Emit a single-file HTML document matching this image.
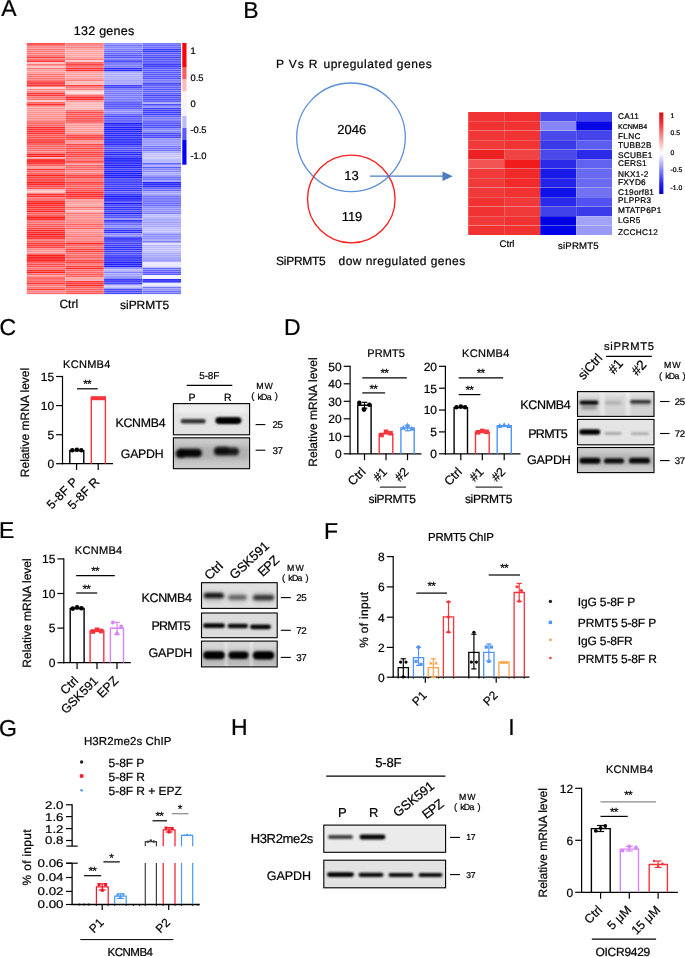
<!DOCTYPE html>
<html><head><meta charset="utf-8"><title>Figure</title>
<style>
html,body{margin:0;padding:0;background:#fff;}
body{width:685px;height:957px;overflow:hidden;font-family:"Liberation Sans",sans-serif;}
svg{display:block;font-family:"Liberation Sans",sans-serif;will-change:transform;text-rendering:geometricPrecision;}
text{stroke:#000;stroke-width:0.22px;paint-order:stroke;}
</style></head><body>
<svg width="685" height="957" viewBox="0 0 685 957">
<rect width="685" height="957" fill="#ffffff"/>
<defs>
<filter id="bl1" x="-30%" y="-200%" width="160%" height="500%"><feGaussianBlur stdDeviation="0.7"/></filter>
<filter id="bl2" x="-30%" y="-200%" width="160%" height="500%"><feGaussianBlur stdDeviation="1.1"/></filter>
<filter id="bl3" x="-30%" y="-200%" width="160%" height="500%"><feGaussianBlur stdDeviation="1.6"/></filter>
<filter id="bl4" x="-30%" y="-200%" width="160%" height="500%"><feGaussianBlur stdDeviation="2.4"/></filter>
<filter id="bl5" x="-30%" y="-200%" width="160%" height="500%"><feGaussianBlur stdDeviation="4.0"/></filter>
</defs>
<text x="1.2" y="16.4" font-size="23" fill="#000">A</text>
<text x="104" y="35.3" font-size="12.5" text-anchor="middle" fill="#000" textLength="60.5" lengthAdjust="spacing">132 genes</text>
<rect x="26.80" y="43.09" width="38.60" height="1.74" fill="#fb3e3e" stroke="none" stroke-width="1.0"/>
<rect x="26.80" y="44.99" width="38.60" height="1.74" fill="#fc7272" stroke="none" stroke-width="1.0"/>
<rect x="26.80" y="46.90" width="38.60" height="1.74" fill="#fc8a8a" stroke="none" stroke-width="1.0"/>
<rect x="26.80" y="48.80" width="38.60" height="1.74" fill="#fc7777" stroke="none" stroke-width="1.0"/>
<rect x="26.80" y="50.70" width="38.60" height="1.74" fill="#fc7777" stroke="none" stroke-width="1.0"/>
<rect x="26.80" y="52.61" width="38.60" height="1.74" fill="#fc7777" stroke="none" stroke-width="1.0"/>
<rect x="26.80" y="54.51" width="38.60" height="1.74" fill="#fc7777" stroke="none" stroke-width="1.0"/>
<rect x="26.80" y="56.41" width="38.60" height="1.74" fill="#fb3e3e" stroke="none" stroke-width="1.0"/>
<rect x="26.80" y="58.31" width="38.60" height="1.74" fill="#fc7272" stroke="none" stroke-width="1.0"/>
<rect x="26.80" y="60.22" width="38.60" height="1.74" fill="#fb3737" stroke="none" stroke-width="1.0"/>
<rect x="26.80" y="62.12" width="38.60" height="1.74" fill="#feb8b8" stroke="none" stroke-width="1.0"/>
<rect x="26.80" y="64.02" width="38.60" height="1.74" fill="#fc7777" stroke="none" stroke-width="1.0"/>
<rect x="26.80" y="65.93" width="38.60" height="1.74" fill="#fec4c4" stroke="none" stroke-width="1.0"/>
<rect x="26.80" y="67.83" width="38.60" height="1.74" fill="#fc7777" stroke="none" stroke-width="1.0"/>
<rect x="26.80" y="69.73" width="38.60" height="1.74" fill="#fd9c9c" stroke="none" stroke-width="1.0"/>
<rect x="26.80" y="71.64" width="38.60" height="1.74" fill="#fd9c9c" stroke="none" stroke-width="1.0"/>
<rect x="26.80" y="73.54" width="38.60" height="1.74" fill="#fc7777" stroke="none" stroke-width="1.0"/>
<rect x="26.80" y="75.44" width="38.60" height="1.74" fill="#fc7777" stroke="none" stroke-width="1.0"/>
<rect x="26.80" y="77.34" width="38.60" height="1.74" fill="#fc7777" stroke="none" stroke-width="1.0"/>
<rect x="26.80" y="79.25" width="38.60" height="1.74" fill="#fc7777" stroke="none" stroke-width="1.0"/>
<rect x="26.80" y="81.15" width="38.60" height="1.74" fill="#fb3e3e" stroke="none" stroke-width="1.0"/>
<rect x="26.80" y="83.05" width="38.60" height="1.74" fill="#fb3e3e" stroke="none" stroke-width="1.0"/>
<rect x="26.80" y="84.96" width="38.60" height="1.74" fill="#fb3737" stroke="none" stroke-width="1.0"/>
<rect x="26.80" y="86.86" width="38.60" height="1.74" fill="#fed5d5" stroke="none" stroke-width="1.0"/>
<rect x="26.80" y="88.76" width="38.60" height="1.74" fill="#fd8e8e" stroke="none" stroke-width="1.0"/>
<rect x="26.80" y="90.67" width="38.60" height="1.74" fill="#fd8e8e" stroke="none" stroke-width="1.0"/>
<rect x="26.80" y="92.57" width="38.60" height="1.74" fill="#fb3737" stroke="none" stroke-width="1.0"/>
<rect x="26.80" y="94.47" width="38.60" height="1.74" fill="#fb3737" stroke="none" stroke-width="1.0"/>
<rect x="26.80" y="96.37" width="38.60" height="1.74" fill="#fc7272" stroke="none" stroke-width="1.0"/>
<rect x="26.80" y="98.28" width="38.60" height="1.74" fill="#fc7272" stroke="none" stroke-width="1.0"/>
<rect x="26.80" y="100.18" width="38.60" height="1.74" fill="#fec4c4" stroke="none" stroke-width="1.0"/>
<rect x="26.80" y="102.08" width="38.60" height="1.74" fill="#fc5b5b" stroke="none" stroke-width="1.0"/>
<rect x="26.80" y="103.99" width="38.60" height="1.74" fill="#fb3131" stroke="none" stroke-width="1.0"/>
<rect x="26.80" y="105.89" width="38.60" height="1.74" fill="#fd9b9b" stroke="none" stroke-width="1.0"/>
<rect x="26.80" y="107.79" width="38.60" height="1.74" fill="#fd9696" stroke="none" stroke-width="1.0"/>
<rect x="26.80" y="109.70" width="38.60" height="1.74" fill="#fd9696" stroke="none" stroke-width="1.0"/>
<rect x="26.80" y="111.60" width="38.60" height="1.74" fill="#fd9090" stroke="none" stroke-width="1.0"/>
<rect x="26.80" y="113.50" width="38.60" height="1.74" fill="#fd9090" stroke="none" stroke-width="1.0"/>
<rect x="26.80" y="115.41" width="38.60" height="1.74" fill="#fd9090" stroke="none" stroke-width="1.0"/>
<rect x="26.80" y="117.31" width="38.60" height="1.74" fill="#fd9090" stroke="none" stroke-width="1.0"/>
<rect x="26.80" y="119.21" width="38.60" height="1.74" fill="#fd9191" stroke="none" stroke-width="1.0"/>
<rect x="26.80" y="121.11" width="38.60" height="1.74" fill="#fc6a6a" stroke="none" stroke-width="1.0"/>
<rect x="26.80" y="123.02" width="38.60" height="1.74" fill="#fc6a6a" stroke="none" stroke-width="1.0"/>
<rect x="26.80" y="124.92" width="38.60" height="1.74" fill="#fc6a6a" stroke="none" stroke-width="1.0"/>
<rect x="26.80" y="126.82" width="38.60" height="1.74" fill="#fb2f2f" stroke="none" stroke-width="1.0"/>
<rect x="26.80" y="128.73" width="38.60" height="1.74" fill="#fb2f2f" stroke="none" stroke-width="1.0"/>
<rect x="26.80" y="130.63" width="38.60" height="1.74" fill="#fb2f2f" stroke="none" stroke-width="1.0"/>
<rect x="26.80" y="132.53" width="38.60" height="1.74" fill="#fb2f2f" stroke="none" stroke-width="1.0"/>
<rect x="26.80" y="134.44" width="38.60" height="1.74" fill="#fb5252" stroke="none" stroke-width="1.0"/>
<rect x="26.80" y="136.34" width="38.60" height="1.74" fill="#fb5252" stroke="none" stroke-width="1.0"/>
<rect x="26.80" y="138.24" width="38.60" height="1.74" fill="#fb5252" stroke="none" stroke-width="1.0"/>
<rect x="26.80" y="140.14" width="38.60" height="1.74" fill="#fb3b3b" stroke="none" stroke-width="1.0"/>
<rect x="26.80" y="142.05" width="38.60" height="1.74" fill="#fb3b3b" stroke="none" stroke-width="1.0"/>
<rect x="26.80" y="143.95" width="38.60" height="1.74" fill="#fc6161" stroke="none" stroke-width="1.0"/>
<rect x="26.80" y="145.85" width="38.60" height="1.74" fill="#fc6161" stroke="none" stroke-width="1.0"/>
<rect x="26.80" y="147.76" width="38.60" height="1.74" fill="#fc6767" stroke="none" stroke-width="1.0"/>
<rect x="26.80" y="149.66" width="38.60" height="1.74" fill="#fc6767" stroke="none" stroke-width="1.0"/>
<rect x="26.80" y="151.56" width="38.60" height="1.74" fill="#fc8585" stroke="none" stroke-width="1.0"/>
<rect x="26.80" y="153.47" width="38.60" height="1.74" fill="#fa2525" stroke="none" stroke-width="1.0"/>
<rect x="26.80" y="155.37" width="38.60" height="1.74" fill="#fa2525" stroke="none" stroke-width="1.0"/>
<rect x="26.80" y="157.27" width="38.60" height="1.74" fill="#fda2a2" stroke="none" stroke-width="1.0"/>
<rect x="26.80" y="159.17" width="38.60" height="1.74" fill="#fa2020" stroke="none" stroke-width="1.0"/>
<rect x="26.80" y="161.08" width="38.60" height="1.74" fill="#fa2020" stroke="none" stroke-width="1.0"/>
<rect x="26.80" y="162.98" width="38.60" height="1.74" fill="#fb4040" stroke="none" stroke-width="1.0"/>
<rect x="26.80" y="164.88" width="38.60" height="1.74" fill="#fc6666" stroke="none" stroke-width="1.0"/>
<rect x="26.80" y="166.79" width="38.60" height="1.74" fill="#fda3a3" stroke="none" stroke-width="1.0"/>
<rect x="26.80" y="168.69" width="38.60" height="1.74" fill="#fb3535" stroke="none" stroke-width="1.0"/>
<rect x="26.80" y="170.59" width="38.60" height="1.74" fill="#fc6363" stroke="none" stroke-width="1.0"/>
<rect x="26.80" y="172.50" width="38.60" height="1.74" fill="#fc6363" stroke="none" stroke-width="1.0"/>
<rect x="26.80" y="174.40" width="38.60" height="1.74" fill="#fa2020" stroke="none" stroke-width="1.0"/>
<rect x="26.80" y="176.30" width="38.60" height="1.74" fill="#fb3f3f" stroke="none" stroke-width="1.0"/>
<rect x="26.80" y="178.21" width="38.60" height="1.74" fill="#fb4545" stroke="none" stroke-width="1.0"/>
<rect x="26.80" y="180.11" width="38.60" height="1.74" fill="#fb4545" stroke="none" stroke-width="1.0"/>
<rect x="26.80" y="182.01" width="38.60" height="1.74" fill="#fa2121" stroke="none" stroke-width="1.0"/>
<rect x="26.80" y="183.91" width="38.60" height="1.74" fill="#fa2a2a" stroke="none" stroke-width="1.0"/>
<rect x="26.80" y="185.82" width="38.60" height="1.74" fill="#fb4d4d" stroke="none" stroke-width="1.0"/>
<rect x="26.80" y="187.72" width="38.60" height="1.74" fill="#fb4e4e" stroke="none" stroke-width="1.0"/>
<rect x="26.80" y="189.62" width="38.60" height="1.74" fill="#febfbf" stroke="none" stroke-width="1.0"/>
<rect x="26.80" y="191.53" width="38.60" height="1.74" fill="#febfbf" stroke="none" stroke-width="1.0"/>
<rect x="26.80" y="193.43" width="38.60" height="1.74" fill="#fb3232" stroke="none" stroke-width="1.0"/>
<rect x="26.80" y="195.33" width="38.60" height="1.74" fill="#fb3232" stroke="none" stroke-width="1.0"/>
<rect x="26.80" y="197.24" width="38.60" height="1.74" fill="#fc7777" stroke="none" stroke-width="1.0"/>
<rect x="26.80" y="199.14" width="38.60" height="1.74" fill="#fc6363" stroke="none" stroke-width="1.0"/>
<rect x="26.80" y="201.04" width="38.60" height="1.74" fill="#fa2a2a" stroke="none" stroke-width="1.0"/>
<rect x="26.80" y="202.94" width="38.60" height="1.74" fill="#fa2020" stroke="none" stroke-width="1.0"/>
<rect x="26.80" y="204.85" width="38.60" height="1.74" fill="#fb2f2f" stroke="none" stroke-width="1.0"/>
<rect x="26.80" y="206.75" width="38.60" height="1.74" fill="#fb3232" stroke="none" stroke-width="1.0"/>
<rect x="26.80" y="208.65" width="38.60" height="1.74" fill="#fb3b3b" stroke="none" stroke-width="1.0"/>
<rect x="26.80" y="210.56" width="38.60" height="1.74" fill="#fa2020" stroke="none" stroke-width="1.0"/>
<rect x="26.80" y="212.46" width="38.60" height="1.74" fill="#fc5e5e" stroke="none" stroke-width="1.0"/>
<rect x="26.80" y="214.36" width="38.60" height="1.74" fill="#fc5e5e" stroke="none" stroke-width="1.0"/>
<rect x="26.80" y="216.27" width="38.60" height="1.74" fill="#fa2020" stroke="none" stroke-width="1.0"/>
<rect x="26.80" y="218.17" width="38.60" height="1.74" fill="#fa2020" stroke="none" stroke-width="1.0"/>
<rect x="26.80" y="220.07" width="38.60" height="1.74" fill="#fc7373" stroke="none" stroke-width="1.0"/>
<rect x="26.80" y="221.97" width="38.60" height="1.74" fill="#fc7373" stroke="none" stroke-width="1.0"/>
<rect x="26.80" y="223.88" width="38.60" height="1.74" fill="#fc5c5c" stroke="none" stroke-width="1.0"/>
<rect x="26.80" y="225.78" width="38.60" height="1.74" fill="#fc5c5c" stroke="none" stroke-width="1.0"/>
<rect x="26.80" y="227.68" width="38.60" height="1.74" fill="#fb4545" stroke="none" stroke-width="1.0"/>
<rect x="26.80" y="229.59" width="38.60" height="1.74" fill="#fa2a2a" stroke="none" stroke-width="1.0"/>
<rect x="26.80" y="231.49" width="38.60" height="1.74" fill="#fa2a2a" stroke="none" stroke-width="1.0"/>
<rect x="26.80" y="233.39" width="38.60" height="1.74" fill="#fa2020" stroke="none" stroke-width="1.0"/>
<rect x="26.80" y="235.30" width="38.60" height="1.74" fill="#fa2a2a" stroke="none" stroke-width="1.0"/>
<rect x="26.80" y="237.20" width="38.60" height="1.74" fill="#fb3030" stroke="none" stroke-width="1.0"/>
<rect x="26.80" y="239.10" width="38.60" height="1.74" fill="#fc7777" stroke="none" stroke-width="1.0"/>
<rect x="26.80" y="241.01" width="38.60" height="1.74" fill="#fc6161" stroke="none" stroke-width="1.0"/>
<rect x="26.80" y="242.91" width="38.60" height="1.74" fill="#fb3939" stroke="none" stroke-width="1.0"/>
<rect x="26.80" y="244.81" width="38.60" height="1.74" fill="#fb3939" stroke="none" stroke-width="1.0"/>
<rect x="26.80" y="246.71" width="38.60" height="1.74" fill="#fb4444" stroke="none" stroke-width="1.0"/>
<rect x="26.80" y="248.62" width="38.60" height="1.74" fill="#fc8989" stroke="none" stroke-width="1.0"/>
<rect x="26.80" y="250.52" width="38.60" height="1.74" fill="#fd9090" stroke="none" stroke-width="1.0"/>
<rect x="26.80" y="252.42" width="38.60" height="1.74" fill="#fd9090" stroke="none" stroke-width="1.0"/>
<rect x="26.80" y="254.33" width="38.60" height="1.74" fill="#fa2020" stroke="none" stroke-width="1.0"/>
<rect x="26.80" y="256.23" width="38.60" height="1.74" fill="#fa2020" stroke="none" stroke-width="1.0"/>
<rect x="26.80" y="258.13" width="38.60" height="1.74" fill="#fa2020" stroke="none" stroke-width="1.0"/>
<rect x="26.80" y="260.04" width="38.60" height="1.74" fill="#fa2020" stroke="none" stroke-width="1.0"/>
<rect x="26.80" y="261.94" width="38.60" height="1.74" fill="#fc5e5e" stroke="none" stroke-width="1.0"/>
<rect x="26.80" y="263.84" width="38.60" height="1.74" fill="#fb4d4d" stroke="none" stroke-width="1.0"/>
<rect x="26.80" y="265.74" width="38.60" height="1.74" fill="#fb5151" stroke="none" stroke-width="1.0"/>
<rect x="26.80" y="267.65" width="38.60" height="1.74" fill="#fc7777" stroke="none" stroke-width="1.0"/>
<rect x="26.80" y="269.55" width="38.60" height="1.74" fill="#fb3737" stroke="none" stroke-width="1.0"/>
<rect x="26.80" y="271.45" width="38.60" height="1.74" fill="#fa2020" stroke="none" stroke-width="1.0"/>
<rect x="26.80" y="273.36" width="38.60" height="1.74" fill="#fc6b6b" stroke="none" stroke-width="1.0"/>
<rect x="26.80" y="275.26" width="38.60" height="1.74" fill="#fd9797" stroke="none" stroke-width="1.0"/>
<rect x="26.80" y="277.16" width="38.60" height="1.74" fill="#fb5858" stroke="none" stroke-width="1.0"/>
<rect x="26.80" y="279.07" width="38.60" height="1.74" fill="#fc6969" stroke="none" stroke-width="1.0"/>
<rect x="26.80" y="280.97" width="38.60" height="1.74" fill="#fc5e5e" stroke="none" stroke-width="1.0"/>
<rect x="26.80" y="282.87" width="38.60" height="1.74" fill="#fb3b3b" stroke="none" stroke-width="1.0"/>
<rect x="26.80" y="284.77" width="38.60" height="1.74" fill="#fc7e7e" stroke="none" stroke-width="1.0"/>
<rect x="26.80" y="286.68" width="38.60" height="1.74" fill="#fc7777" stroke="none" stroke-width="1.0"/>
<rect x="26.80" y="288.58" width="38.60" height="1.74" fill="#fb3737" stroke="none" stroke-width="1.0"/>
<rect x="26.80" y="290.48" width="38.60" height="1.74" fill="#fc8383" stroke="none" stroke-width="1.0"/>
<rect x="26.80" y="292.39" width="38.60" height="1.74" fill="#fc7070" stroke="none" stroke-width="1.0"/>
<rect x="65.35" y="43.09" width="38.60" height="1.74" fill="#fc7272" stroke="none" stroke-width="1.0"/>
<rect x="65.35" y="44.99" width="38.60" height="1.74" fill="#fc8a8a" stroke="none" stroke-width="1.0"/>
<rect x="65.35" y="46.90" width="38.60" height="1.74" fill="#fc8585" stroke="none" stroke-width="1.0"/>
<rect x="65.35" y="48.80" width="38.60" height="1.74" fill="#fda1a1" stroke="none" stroke-width="1.0"/>
<rect x="65.35" y="50.70" width="38.60" height="1.74" fill="#fda1a1" stroke="none" stroke-width="1.0"/>
<rect x="65.35" y="52.61" width="38.60" height="1.74" fill="#fda1a1" stroke="none" stroke-width="1.0"/>
<rect x="65.35" y="54.51" width="38.60" height="1.74" fill="#fda1a1" stroke="none" stroke-width="1.0"/>
<rect x="65.35" y="56.41" width="38.60" height="1.74" fill="#fda1a1" stroke="none" stroke-width="1.0"/>
<rect x="65.35" y="58.31" width="38.60" height="1.74" fill="#fc7e7e" stroke="none" stroke-width="1.0"/>
<rect x="65.35" y="60.22" width="38.60" height="1.74" fill="#fec4c4" stroke="none" stroke-width="1.0"/>
<rect x="65.35" y="62.12" width="38.60" height="1.74" fill="#fc5a5a" stroke="none" stroke-width="1.0"/>
<rect x="65.35" y="64.02" width="38.60" height="1.74" fill="#fb3e3e" stroke="none" stroke-width="1.0"/>
<rect x="65.35" y="65.93" width="38.60" height="1.74" fill="#fc7272" stroke="none" stroke-width="1.0"/>
<rect x="65.35" y="67.83" width="38.60" height="1.74" fill="#fb3535" stroke="none" stroke-width="1.0"/>
<rect x="65.35" y="69.73" width="38.60" height="1.74" fill="#fb3535" stroke="none" stroke-width="1.0"/>
<rect x="65.35" y="71.64" width="38.60" height="1.74" fill="#fda1a1" stroke="none" stroke-width="1.0"/>
<rect x="65.35" y="73.54" width="38.60" height="1.74" fill="#fda1a1" stroke="none" stroke-width="1.0"/>
<rect x="65.35" y="75.44" width="38.60" height="1.74" fill="#fda1a1" stroke="none" stroke-width="1.0"/>
<rect x="65.35" y="77.34" width="38.60" height="1.74" fill="#fda1a1" stroke="none" stroke-width="1.0"/>
<rect x="65.35" y="79.25" width="38.60" height="1.74" fill="#fc7e7e" stroke="none" stroke-width="1.0"/>
<rect x="65.35" y="81.15" width="38.60" height="1.74" fill="#feb8b8" stroke="none" stroke-width="1.0"/>
<rect x="65.35" y="83.05" width="38.60" height="1.74" fill="#feb8b8" stroke="none" stroke-width="1.0"/>
<rect x="65.35" y="84.96" width="38.60" height="1.74" fill="#fb3e3e" stroke="none" stroke-width="1.0"/>
<rect x="65.35" y="86.86" width="38.60" height="1.74" fill="#fc7e7e" stroke="none" stroke-width="1.0"/>
<rect x="65.35" y="88.76" width="38.60" height="1.74" fill="#fc7e7e" stroke="none" stroke-width="1.0"/>
<rect x="65.35" y="90.67" width="38.60" height="1.74" fill="#fed7d7" stroke="none" stroke-width="1.0"/>
<rect x="65.35" y="92.57" width="38.60" height="1.74" fill="#fed7d7" stroke="none" stroke-width="1.0"/>
<rect x="65.35" y="94.47" width="38.60" height="1.74" fill="#fc7272" stroke="none" stroke-width="1.0"/>
<rect x="65.35" y="96.37" width="38.60" height="1.74" fill="#fb3030" stroke="none" stroke-width="1.0"/>
<rect x="65.35" y="98.28" width="38.60" height="1.74" fill="#fb3030" stroke="none" stroke-width="1.0"/>
<rect x="65.35" y="100.18" width="38.60" height="1.74" fill="#fc8a8a" stroke="none" stroke-width="1.0"/>
<rect x="65.35" y="102.08" width="38.60" height="1.74" fill="#feb9b9" stroke="none" stroke-width="1.0"/>
<rect x="65.35" y="103.99" width="38.60" height="1.74" fill="#feb9b9" stroke="none" stroke-width="1.0"/>
<rect x="65.35" y="105.89" width="38.60" height="1.74" fill="#feb9b9" stroke="none" stroke-width="1.0"/>
<rect x="65.35" y="107.79" width="38.60" height="1.74" fill="#feb9b9" stroke="none" stroke-width="1.0"/>
<rect x="65.35" y="109.70" width="38.60" height="1.74" fill="#fc7676" stroke="none" stroke-width="1.0"/>
<rect x="65.35" y="111.60" width="38.60" height="1.74" fill="#fb4747" stroke="none" stroke-width="1.0"/>
<rect x="65.35" y="113.50" width="38.60" height="1.74" fill="#fb5757" stroke="none" stroke-width="1.0"/>
<rect x="65.35" y="115.41" width="38.60" height="1.74" fill="#fb5757" stroke="none" stroke-width="1.0"/>
<rect x="65.35" y="117.31" width="38.60" height="1.74" fill="#fb5757" stroke="none" stroke-width="1.0"/>
<rect x="65.35" y="119.21" width="38.60" height="1.74" fill="#fb5757" stroke="none" stroke-width="1.0"/>
<rect x="65.35" y="121.11" width="38.60" height="1.74" fill="#fc5b5b" stroke="none" stroke-width="1.0"/>
<rect x="65.35" y="123.02" width="38.60" height="1.74" fill="#fd9b9b" stroke="none" stroke-width="1.0"/>
<rect x="65.35" y="124.92" width="38.60" height="1.74" fill="#fd9b9b" stroke="none" stroke-width="1.0"/>
<rect x="65.35" y="126.82" width="38.60" height="1.74" fill="#fd9b9b" stroke="none" stroke-width="1.0"/>
<rect x="65.35" y="128.73" width="38.60" height="1.74" fill="#fd9b9b" stroke="none" stroke-width="1.0"/>
<rect x="65.35" y="130.63" width="38.60" height="1.74" fill="#fd9595" stroke="none" stroke-width="1.0"/>
<rect x="65.35" y="132.53" width="38.60" height="1.74" fill="#fd9595" stroke="none" stroke-width="1.0"/>
<rect x="65.35" y="134.44" width="38.60" height="1.74" fill="#fb4a4a" stroke="none" stroke-width="1.0"/>
<rect x="65.35" y="136.34" width="38.60" height="1.74" fill="#fb3f3f" stroke="none" stroke-width="1.0"/>
<rect x="65.35" y="138.24" width="38.60" height="1.74" fill="#fb5050" stroke="none" stroke-width="1.0"/>
<rect x="65.35" y="140.14" width="38.60" height="1.74" fill="#fd8e8e" stroke="none" stroke-width="1.0"/>
<rect x="65.35" y="142.05" width="38.60" height="1.74" fill="#fd9898" stroke="none" stroke-width="1.0"/>
<rect x="65.35" y="143.95" width="38.60" height="1.74" fill="#fb4646" stroke="none" stroke-width="1.0"/>
<rect x="65.35" y="145.85" width="38.60" height="1.74" fill="#fc5f5f" stroke="none" stroke-width="1.0"/>
<rect x="65.35" y="147.76" width="38.60" height="1.74" fill="#fb4646" stroke="none" stroke-width="1.0"/>
<rect x="65.35" y="149.66" width="38.60" height="1.74" fill="#fc6161" stroke="none" stroke-width="1.0"/>
<rect x="65.35" y="151.56" width="38.60" height="1.74" fill="#fb3f3f" stroke="none" stroke-width="1.0"/>
<rect x="65.35" y="153.47" width="38.60" height="1.74" fill="#fb4747" stroke="none" stroke-width="1.0"/>
<rect x="65.35" y="155.37" width="38.60" height="1.74" fill="#fb4747" stroke="none" stroke-width="1.0"/>
<rect x="65.35" y="157.27" width="38.60" height="1.74" fill="#fc6e6e" stroke="none" stroke-width="1.0"/>
<rect x="65.35" y="159.17" width="38.60" height="1.74" fill="#fc6e6e" stroke="none" stroke-width="1.0"/>
<rect x="65.35" y="161.08" width="38.60" height="1.74" fill="#fb4242" stroke="none" stroke-width="1.0"/>
<rect x="65.35" y="162.98" width="38.60" height="1.74" fill="#fd9797" stroke="none" stroke-width="1.0"/>
<rect x="65.35" y="164.88" width="38.60" height="1.74" fill="#fc6565" stroke="none" stroke-width="1.0"/>
<rect x="65.35" y="166.79" width="38.60" height="1.74" fill="#fc6565" stroke="none" stroke-width="1.0"/>
<rect x="65.35" y="168.69" width="38.60" height="1.74" fill="#fc6060" stroke="none" stroke-width="1.0"/>
<rect x="65.35" y="170.59" width="38.60" height="1.74" fill="#fc8888" stroke="none" stroke-width="1.0"/>
<rect x="65.35" y="172.50" width="38.60" height="1.74" fill="#fc8181" stroke="none" stroke-width="1.0"/>
<rect x="65.35" y="174.40" width="38.60" height="1.74" fill="#fb4444" stroke="none" stroke-width="1.0"/>
<rect x="65.35" y="176.30" width="38.60" height="1.74" fill="#fb3e3e" stroke="none" stroke-width="1.0"/>
<rect x="65.35" y="178.21" width="38.60" height="1.74" fill="#fc7070" stroke="none" stroke-width="1.0"/>
<rect x="65.35" y="180.11" width="38.60" height="1.74" fill="#fc7070" stroke="none" stroke-width="1.0"/>
<rect x="65.35" y="182.01" width="38.60" height="1.74" fill="#fb3e3e" stroke="none" stroke-width="1.0"/>
<rect x="65.35" y="183.91" width="38.60" height="1.74" fill="#fb5757" stroke="none" stroke-width="1.0"/>
<rect x="65.35" y="185.82" width="38.60" height="1.74" fill="#fc6666" stroke="none" stroke-width="1.0"/>
<rect x="65.35" y="187.72" width="38.60" height="1.74" fill="#fb5252" stroke="none" stroke-width="1.0"/>
<rect x="65.35" y="189.62" width="38.60" height="1.74" fill="#fb5252" stroke="none" stroke-width="1.0"/>
<rect x="65.35" y="191.53" width="38.60" height="1.74" fill="#fb2f2f" stroke="none" stroke-width="1.0"/>
<rect x="65.35" y="193.43" width="38.60" height="1.74" fill="#fb2f2f" stroke="none" stroke-width="1.0"/>
<rect x="65.35" y="195.33" width="38.60" height="1.74" fill="#fb2f2f" stroke="none" stroke-width="1.0"/>
<rect x="65.35" y="197.24" width="38.60" height="1.74" fill="#fb4a4a" stroke="none" stroke-width="1.0"/>
<rect x="65.35" y="199.14" width="38.60" height="1.74" fill="#fd9b9b" stroke="none" stroke-width="1.0"/>
<rect x="65.35" y="201.04" width="38.60" height="1.74" fill="#fd9797" stroke="none" stroke-width="1.0"/>
<rect x="65.35" y="202.94" width="38.60" height="1.74" fill="#fda5a5" stroke="none" stroke-width="1.0"/>
<rect x="65.35" y="204.85" width="38.60" height="1.74" fill="#fda5a5" stroke="none" stroke-width="1.0"/>
<rect x="65.35" y="206.75" width="38.60" height="1.74" fill="#fc6f6f" stroke="none" stroke-width="1.0"/>
<rect x="65.35" y="208.65" width="38.60" height="1.74" fill="#fd9292" stroke="none" stroke-width="1.0"/>
<rect x="65.35" y="210.56" width="38.60" height="1.74" fill="#fec0c0" stroke="none" stroke-width="1.0"/>
<rect x="65.35" y="212.46" width="38.60" height="1.74" fill="#fc7171" stroke="none" stroke-width="1.0"/>
<rect x="65.35" y="214.36" width="38.60" height="1.74" fill="#fd8c8c" stroke="none" stroke-width="1.0"/>
<rect x="65.35" y="216.27" width="38.60" height="1.74" fill="#fd8c8c" stroke="none" stroke-width="1.0"/>
<rect x="65.35" y="218.17" width="38.60" height="1.74" fill="#fd9494" stroke="none" stroke-width="1.0"/>
<rect x="65.35" y="220.07" width="38.60" height="1.74" fill="#fc8686" stroke="none" stroke-width="1.0"/>
<rect x="65.35" y="221.97" width="38.60" height="1.74" fill="#fc8686" stroke="none" stroke-width="1.0"/>
<rect x="65.35" y="223.88" width="38.60" height="1.74" fill="#fc6464" stroke="none" stroke-width="1.0"/>
<rect x="65.35" y="225.78" width="38.60" height="1.74" fill="#fc7777" stroke="none" stroke-width="1.0"/>
<rect x="65.35" y="227.68" width="38.60" height="1.74" fill="#fc6464" stroke="none" stroke-width="1.0"/>
<rect x="65.35" y="229.59" width="38.60" height="1.74" fill="#fd9999" stroke="none" stroke-width="1.0"/>
<rect x="65.35" y="231.49" width="38.60" height="1.74" fill="#fd8a8a" stroke="none" stroke-width="1.0"/>
<rect x="65.35" y="233.39" width="38.60" height="1.74" fill="#fd8a8a" stroke="none" stroke-width="1.0"/>
<rect x="65.35" y="235.30" width="38.60" height="1.74" fill="#fc7a7a" stroke="none" stroke-width="1.0"/>
<rect x="65.35" y="237.20" width="38.60" height="1.74" fill="#fd8a8a" stroke="none" stroke-width="1.0"/>
<rect x="65.35" y="239.10" width="38.60" height="1.74" fill="#fd8a8a" stroke="none" stroke-width="1.0"/>
<rect x="65.35" y="241.01" width="38.60" height="1.74" fill="#fc7575" stroke="none" stroke-width="1.0"/>
<rect x="65.35" y="242.91" width="38.60" height="1.74" fill="#fa2828" stroke="none" stroke-width="1.0"/>
<rect x="65.35" y="244.81" width="38.60" height="1.74" fill="#fc6a6a" stroke="none" stroke-width="1.0"/>
<rect x="65.35" y="246.71" width="38.60" height="1.74" fill="#fc6a6a" stroke="none" stroke-width="1.0"/>
<rect x="65.35" y="248.62" width="38.60" height="1.74" fill="#fb4545" stroke="none" stroke-width="1.0"/>
<rect x="65.35" y="250.52" width="38.60" height="1.74" fill="#fb4545" stroke="none" stroke-width="1.0"/>
<rect x="65.35" y="252.42" width="38.60" height="1.74" fill="#fc6767" stroke="none" stroke-width="1.0"/>
<rect x="65.35" y="254.33" width="38.60" height="1.74" fill="#fc6f6f" stroke="none" stroke-width="1.0"/>
<rect x="65.35" y="256.23" width="38.60" height="1.74" fill="#fc5b5b" stroke="none" stroke-width="1.0"/>
<rect x="65.35" y="258.13" width="38.60" height="1.74" fill="#fc7979" stroke="none" stroke-width="1.0"/>
<rect x="65.35" y="260.04" width="38.60" height="1.74" fill="#fb4747" stroke="none" stroke-width="1.0"/>
<rect x="65.35" y="261.94" width="38.60" height="1.74" fill="#fb4747" stroke="none" stroke-width="1.0"/>
<rect x="65.35" y="263.84" width="38.60" height="1.74" fill="#fc7d7d" stroke="none" stroke-width="1.0"/>
<rect x="65.35" y="265.74" width="38.60" height="1.74" fill="#fb3e3e" stroke="none" stroke-width="1.0"/>
<rect x="65.35" y="267.65" width="38.60" height="1.74" fill="#fb2d2d" stroke="none" stroke-width="1.0"/>
<rect x="65.35" y="269.55" width="38.60" height="1.74" fill="#fc6c6c" stroke="none" stroke-width="1.0"/>
<rect x="65.35" y="271.45" width="38.60" height="1.74" fill="#fc6767" stroke="none" stroke-width="1.0"/>
<rect x="65.35" y="273.36" width="38.60" height="1.74" fill="#fc5d5d" stroke="none" stroke-width="1.0"/>
<rect x="65.35" y="275.26" width="38.60" height="1.74" fill="#fc6464" stroke="none" stroke-width="1.0"/>
<rect x="65.35" y="277.16" width="38.60" height="1.74" fill="#fda3a3" stroke="none" stroke-width="1.0"/>
<rect x="65.35" y="279.07" width="38.60" height="1.74" fill="#fda3a3" stroke="none" stroke-width="1.0"/>
<rect x="65.35" y="280.97" width="38.60" height="1.74" fill="#fb3b3b" stroke="none" stroke-width="1.0"/>
<rect x="65.35" y="282.87" width="38.60" height="1.74" fill="#fb3b3b" stroke="none" stroke-width="1.0"/>
<rect x="65.35" y="284.77" width="38.60" height="1.74" fill="#fa2b2b" stroke="none" stroke-width="1.0"/>
<rect x="65.35" y="286.68" width="38.60" height="1.74" fill="#fc5d5d" stroke="none" stroke-width="1.0"/>
<rect x="65.35" y="288.58" width="38.60" height="1.74" fill="#fc6060" stroke="none" stroke-width="1.0"/>
<rect x="65.35" y="290.48" width="38.60" height="1.74" fill="#fc6060" stroke="none" stroke-width="1.0"/>
<rect x="65.35" y="292.39" width="38.60" height="1.74" fill="#fb5252" stroke="none" stroke-width="1.0"/>
<rect x="103.90" y="43.09" width="38.60" height="1.74" fill="#8d8dfd" stroke="none" stroke-width="1.0"/>
<rect x="103.90" y="44.99" width="38.60" height="1.74" fill="#7777fc" stroke="none" stroke-width="1.0"/>
<rect x="103.90" y="46.90" width="38.60" height="1.74" fill="#8a8afd" stroke="none" stroke-width="1.0"/>
<rect x="103.90" y="48.80" width="38.60" height="1.74" fill="#7d7dfc" stroke="none" stroke-width="1.0"/>
<rect x="103.90" y="50.70" width="38.60" height="1.74" fill="#6969fc" stroke="none" stroke-width="1.0"/>
<rect x="103.90" y="52.61" width="38.60" height="1.74" fill="#6969fc" stroke="none" stroke-width="1.0"/>
<rect x="103.90" y="54.51" width="38.60" height="1.74" fill="#5656fb" stroke="none" stroke-width="1.0"/>
<rect x="103.90" y="56.41" width="38.60" height="1.74" fill="#5656fb" stroke="none" stroke-width="1.0"/>
<rect x="103.90" y="58.31" width="38.60" height="1.74" fill="#7d7dfc" stroke="none" stroke-width="1.0"/>
<rect x="103.90" y="60.22" width="38.60" height="1.74" fill="#4545fb" stroke="none" stroke-width="1.0"/>
<rect x="103.90" y="62.12" width="38.60" height="1.74" fill="#6c6cfc" stroke="none" stroke-width="1.0"/>
<rect x="103.90" y="64.02" width="38.60" height="1.74" fill="#7d7dfc" stroke="none" stroke-width="1.0"/>
<rect x="103.90" y="65.93" width="38.60" height="1.74" fill="#7d7dfc" stroke="none" stroke-width="1.0"/>
<rect x="103.90" y="67.83" width="38.60" height="1.74" fill="#2c2cfb" stroke="none" stroke-width="1.0"/>
<rect x="103.90" y="69.73" width="38.60" height="1.74" fill="#2c2cfb" stroke="none" stroke-width="1.0"/>
<rect x="103.90" y="71.64" width="38.60" height="1.74" fill="#ababfd" stroke="none" stroke-width="1.0"/>
<rect x="103.90" y="73.54" width="38.60" height="1.74" fill="#ababfd" stroke="none" stroke-width="1.0"/>
<rect x="103.90" y="75.44" width="38.60" height="1.74" fill="#ababfd" stroke="none" stroke-width="1.0"/>
<rect x="103.90" y="77.34" width="38.60" height="1.74" fill="#ababfd" stroke="none" stroke-width="1.0"/>
<rect x="103.90" y="79.25" width="38.60" height="1.74" fill="#a5a5fd" stroke="none" stroke-width="1.0"/>
<rect x="103.90" y="81.15" width="38.60" height="1.74" fill="#a6a6fd" stroke="none" stroke-width="1.0"/>
<rect x="103.90" y="83.05" width="38.60" height="1.74" fill="#a6a6fd" stroke="none" stroke-width="1.0"/>
<rect x="103.90" y="84.96" width="38.60" height="1.74" fill="#4040fb" stroke="none" stroke-width="1.0"/>
<rect x="103.90" y="86.86" width="38.60" height="1.74" fill="#4545fb" stroke="none" stroke-width="1.0"/>
<rect x="103.90" y="88.76" width="38.60" height="1.74" fill="#7676fc" stroke="none" stroke-width="1.0"/>
<rect x="103.90" y="90.67" width="38.60" height="1.74" fill="#7676fc" stroke="none" stroke-width="1.0"/>
<rect x="103.90" y="92.57" width="38.60" height="1.74" fill="#7676fc" stroke="none" stroke-width="1.0"/>
<rect x="103.90" y="94.47" width="38.60" height="1.74" fill="#7676fc" stroke="none" stroke-width="1.0"/>
<rect x="103.90" y="96.37" width="38.60" height="1.74" fill="#7b7bfc" stroke="none" stroke-width="1.0"/>
<rect x="103.90" y="98.28" width="38.60" height="1.74" fill="#7b7bfc" stroke="none" stroke-width="1.0"/>
<rect x="103.90" y="100.18" width="38.60" height="1.74" fill="#7b7bfc" stroke="none" stroke-width="1.0"/>
<rect x="103.90" y="102.08" width="38.60" height="1.74" fill="#5757fb" stroke="none" stroke-width="1.0"/>
<rect x="103.90" y="103.99" width="38.60" height="1.74" fill="#5757fb" stroke="none" stroke-width="1.0"/>
<rect x="103.90" y="105.89" width="38.60" height="1.74" fill="#5757fb" stroke="none" stroke-width="1.0"/>
<rect x="103.90" y="107.79" width="38.60" height="1.74" fill="#5757fb" stroke="none" stroke-width="1.0"/>
<rect x="103.90" y="109.70" width="38.60" height="1.74" fill="#8c8cfd" stroke="none" stroke-width="1.0"/>
<rect x="103.90" y="111.60" width="38.60" height="1.74" fill="#8c8cfd" stroke="none" stroke-width="1.0"/>
<rect x="103.90" y="113.50" width="38.60" height="1.74" fill="#6b6bfc" stroke="none" stroke-width="1.0"/>
<rect x="103.90" y="115.41" width="38.60" height="1.74" fill="#4747fb" stroke="none" stroke-width="1.0"/>
<rect x="103.90" y="117.31" width="38.60" height="1.74" fill="#5f5ffc" stroke="none" stroke-width="1.0"/>
<rect x="103.90" y="119.21" width="38.60" height="1.74" fill="#5f5ffc" stroke="none" stroke-width="1.0"/>
<rect x="103.90" y="121.11" width="38.60" height="1.74" fill="#5f5ffc" stroke="none" stroke-width="1.0"/>
<rect x="103.90" y="123.02" width="38.60" height="1.74" fill="#1c1cfa" stroke="none" stroke-width="1.0"/>
<rect x="103.90" y="124.92" width="38.60" height="1.74" fill="#3b3bfb" stroke="none" stroke-width="1.0"/>
<rect x="103.90" y="126.82" width="38.60" height="1.74" fill="#1c1cfa" stroke="none" stroke-width="1.0"/>
<rect x="103.90" y="128.73" width="38.60" height="1.74" fill="#1c1cfa" stroke="none" stroke-width="1.0"/>
<rect x="103.90" y="130.63" width="38.60" height="1.74" fill="#2525fa" stroke="none" stroke-width="1.0"/>
<rect x="103.90" y="132.53" width="38.60" height="1.74" fill="#2525fa" stroke="none" stroke-width="1.0"/>
<rect x="103.90" y="134.44" width="38.60" height="1.74" fill="#2525fa" stroke="none" stroke-width="1.0"/>
<rect x="103.90" y="136.34" width="38.60" height="1.74" fill="#3131fb" stroke="none" stroke-width="1.0"/>
<rect x="103.90" y="138.24" width="38.60" height="1.74" fill="#3131fb" stroke="none" stroke-width="1.0"/>
<rect x="103.90" y="140.14" width="38.60" height="1.74" fill="#3131fb" stroke="none" stroke-width="1.0"/>
<rect x="103.90" y="142.05" width="38.60" height="1.74" fill="#2e2efb" stroke="none" stroke-width="1.0"/>
<rect x="103.90" y="143.95" width="38.60" height="1.74" fill="#2e2efb" stroke="none" stroke-width="1.0"/>
<rect x="103.90" y="145.85" width="38.60" height="1.74" fill="#5454fb" stroke="none" stroke-width="1.0"/>
<rect x="103.90" y="147.76" width="38.60" height="1.74" fill="#4c4cfb" stroke="none" stroke-width="1.0"/>
<rect x="103.90" y="149.66" width="38.60" height="1.74" fill="#4c4cfb" stroke="none" stroke-width="1.0"/>
<rect x="103.90" y="151.56" width="38.60" height="1.74" fill="#2f2ffb" stroke="none" stroke-width="1.0"/>
<rect x="103.90" y="153.47" width="38.60" height="1.74" fill="#2525fa" stroke="none" stroke-width="1.0"/>
<rect x="103.90" y="155.37" width="38.60" height="1.74" fill="#4444fb" stroke="none" stroke-width="1.0"/>
<rect x="103.90" y="157.27" width="38.60" height="1.74" fill="#2626fa" stroke="none" stroke-width="1.0"/>
<rect x="103.90" y="159.17" width="38.60" height="1.74" fill="#1c1cfa" stroke="none" stroke-width="1.0"/>
<rect x="103.90" y="161.08" width="38.60" height="1.74" fill="#2c2cfb" stroke="none" stroke-width="1.0"/>
<rect x="103.90" y="162.98" width="38.60" height="1.74" fill="#2d2dfb" stroke="none" stroke-width="1.0"/>
<rect x="103.90" y="164.88" width="38.60" height="1.74" fill="#2323fa" stroke="none" stroke-width="1.0"/>
<rect x="103.90" y="166.79" width="38.60" height="1.74" fill="#2323fa" stroke="none" stroke-width="1.0"/>
<rect x="103.90" y="168.69" width="38.60" height="1.74" fill="#3d3dfb" stroke="none" stroke-width="1.0"/>
<rect x="103.90" y="170.59" width="38.60" height="1.74" fill="#1c1cfa" stroke="none" stroke-width="1.0"/>
<rect x="103.90" y="172.50" width="38.60" height="1.74" fill="#1c1cfa" stroke="none" stroke-width="1.0"/>
<rect x="103.90" y="174.40" width="38.60" height="1.74" fill="#1e1efa" stroke="none" stroke-width="1.0"/>
<rect x="103.90" y="176.30" width="38.60" height="1.74" fill="#1e1efa" stroke="none" stroke-width="1.0"/>
<rect x="103.90" y="178.21" width="38.60" height="1.74" fill="#4b4bfb" stroke="none" stroke-width="1.0"/>
<rect x="103.90" y="180.11" width="38.60" height="1.74" fill="#4343fb" stroke="none" stroke-width="1.0"/>
<rect x="103.90" y="182.01" width="38.60" height="1.74" fill="#3d3dfb" stroke="none" stroke-width="1.0"/>
<rect x="103.90" y="183.91" width="38.60" height="1.74" fill="#3e3efb" stroke="none" stroke-width="1.0"/>
<rect x="103.90" y="185.82" width="38.60" height="1.74" fill="#3e3efb" stroke="none" stroke-width="1.0"/>
<rect x="103.90" y="187.72" width="38.60" height="1.74" fill="#3333fb" stroke="none" stroke-width="1.0"/>
<rect x="103.90" y="189.62" width="38.60" height="1.74" fill="#3333fb" stroke="none" stroke-width="1.0"/>
<rect x="103.90" y="191.53" width="38.60" height="1.74" fill="#5c5cfc" stroke="none" stroke-width="1.0"/>
<rect x="103.90" y="193.43" width="38.60" height="1.74" fill="#3d3dfb" stroke="none" stroke-width="1.0"/>
<rect x="103.90" y="195.33" width="38.60" height="1.74" fill="#1c1cfa" stroke="none" stroke-width="1.0"/>
<rect x="103.90" y="197.24" width="38.60" height="1.74" fill="#2525fa" stroke="none" stroke-width="1.0"/>
<rect x="103.90" y="199.14" width="38.60" height="1.74" fill="#2525fa" stroke="none" stroke-width="1.0"/>
<rect x="103.90" y="201.04" width="38.60" height="1.74" fill="#5858fc" stroke="none" stroke-width="1.0"/>
<rect x="103.90" y="202.94" width="38.60" height="1.74" fill="#1c1cfa" stroke="none" stroke-width="1.0"/>
<rect x="103.90" y="204.85" width="38.60" height="1.74" fill="#4c4cfb" stroke="none" stroke-width="1.0"/>
<rect x="103.90" y="206.75" width="38.60" height="1.74" fill="#3030fb" stroke="none" stroke-width="1.0"/>
<rect x="103.90" y="208.65" width="38.60" height="1.74" fill="#3333fb" stroke="none" stroke-width="1.0"/>
<rect x="103.90" y="210.56" width="38.60" height="1.74" fill="#4949fb" stroke="none" stroke-width="1.0"/>
<rect x="103.90" y="212.46" width="38.60" height="1.74" fill="#2424fa" stroke="none" stroke-width="1.0"/>
<rect x="103.90" y="214.36" width="38.60" height="1.74" fill="#5050fb" stroke="none" stroke-width="1.0"/>
<rect x="103.90" y="216.27" width="38.60" height="1.74" fill="#5050fb" stroke="none" stroke-width="1.0"/>
<rect x="103.90" y="218.17" width="38.60" height="1.74" fill="#8f8ffd" stroke="none" stroke-width="1.0"/>
<rect x="103.90" y="220.07" width="38.60" height="1.74" fill="#2f2ffb" stroke="none" stroke-width="1.0"/>
<rect x="103.90" y="221.97" width="38.60" height="1.74" fill="#6a6afc" stroke="none" stroke-width="1.0"/>
<rect x="103.90" y="223.88" width="38.60" height="1.74" fill="#6c6cfc" stroke="none" stroke-width="1.0"/>
<rect x="103.90" y="225.78" width="38.60" height="1.74" fill="#9191fd" stroke="none" stroke-width="1.0"/>
<rect x="103.90" y="227.68" width="38.60" height="1.74" fill="#6565fc" stroke="none" stroke-width="1.0"/>
<rect x="103.90" y="229.59" width="38.60" height="1.74" fill="#3333fb" stroke="none" stroke-width="1.0"/>
<rect x="103.90" y="231.49" width="38.60" height="1.74" fill="#3333fb" stroke="none" stroke-width="1.0"/>
<rect x="103.90" y="233.39" width="38.60" height="1.74" fill="#8c8cfd" stroke="none" stroke-width="1.0"/>
<rect x="103.90" y="235.30" width="38.60" height="1.74" fill="#8c8cfd" stroke="none" stroke-width="1.0"/>
<rect x="103.90" y="237.20" width="38.60" height="1.74" fill="#3636fb" stroke="none" stroke-width="1.0"/>
<rect x="103.90" y="239.10" width="38.60" height="1.74" fill="#3333fb" stroke="none" stroke-width="1.0"/>
<rect x="103.90" y="241.01" width="38.60" height="1.74" fill="#5151fb" stroke="none" stroke-width="1.0"/>
<rect x="103.90" y="242.91" width="38.60" height="1.74" fill="#4444fb" stroke="none" stroke-width="1.0"/>
<rect x="103.90" y="244.81" width="38.60" height="1.74" fill="#4040fb" stroke="none" stroke-width="1.0"/>
<rect x="103.90" y="246.71" width="38.60" height="1.74" fill="#2f2ffb" stroke="none" stroke-width="1.0"/>
<rect x="103.90" y="248.62" width="38.60" height="1.74" fill="#3636fb" stroke="none" stroke-width="1.0"/>
<rect x="103.90" y="250.52" width="38.60" height="1.74" fill="#4040fb" stroke="none" stroke-width="1.0"/>
<rect x="103.90" y="252.42" width="38.60" height="1.74" fill="#5151fb" stroke="none" stroke-width="1.0"/>
<rect x="103.90" y="254.33" width="38.60" height="1.74" fill="#4b4bfb" stroke="none" stroke-width="1.0"/>
<rect x="103.90" y="256.23" width="38.60" height="1.74" fill="#3232fb" stroke="none" stroke-width="1.0"/>
<rect x="103.90" y="258.13" width="38.60" height="1.74" fill="#3939fb" stroke="none" stroke-width="1.0"/>
<rect x="103.90" y="260.04" width="38.60" height="1.74" fill="#3939fb" stroke="none" stroke-width="1.0"/>
<rect x="103.90" y="261.94" width="38.60" height="1.74" fill="#1f1ffa" stroke="none" stroke-width="1.0"/>
<rect x="103.90" y="263.84" width="38.60" height="1.74" fill="#2121fa" stroke="none" stroke-width="1.0"/>
<rect x="103.90" y="265.74" width="38.60" height="1.74" fill="#2121fa" stroke="none" stroke-width="1.0"/>
<rect x="103.90" y="267.65" width="38.60" height="1.74" fill="#9393fd" stroke="none" stroke-width="1.0"/>
<rect x="103.90" y="269.55" width="38.60" height="1.74" fill="#bbbbfe" stroke="none" stroke-width="1.0"/>
<rect x="103.90" y="271.45" width="38.60" height="1.74" fill="#7f7ffc" stroke="none" stroke-width="1.0"/>
<rect x="103.90" y="273.36" width="38.60" height="1.74" fill="#a4a4fd" stroke="none" stroke-width="1.0"/>
<rect x="103.90" y="275.26" width="38.60" height="1.74" fill="#a0a0fd" stroke="none" stroke-width="1.0"/>
<rect x="103.90" y="277.16" width="38.60" height="1.74" fill="#8383fc" stroke="none" stroke-width="1.0"/>
<rect x="103.90" y="279.07" width="38.60" height="1.74" fill="#2f2ffb" stroke="none" stroke-width="1.0"/>
<rect x="103.90" y="280.97" width="38.60" height="1.74" fill="#4242fb" stroke="none" stroke-width="1.0"/>
<rect x="103.90" y="282.87" width="38.60" height="1.74" fill="#4242fb" stroke="none" stroke-width="1.0"/>
<rect x="103.90" y="284.77" width="38.60" height="1.74" fill="#c0c0fe" stroke="none" stroke-width="1.0"/>
<rect x="103.90" y="286.68" width="38.60" height="1.74" fill="#c0c0fe" stroke="none" stroke-width="1.0"/>
<rect x="103.90" y="288.58" width="38.60" height="1.74" fill="#4a4afb" stroke="none" stroke-width="1.0"/>
<rect x="103.90" y="290.48" width="38.60" height="1.74" fill="#4a4afb" stroke="none" stroke-width="1.0"/>
<rect x="103.90" y="292.39" width="38.60" height="1.74" fill="#4b4bfb" stroke="none" stroke-width="1.0"/>
<rect x="142.45" y="43.09" width="38.60" height="1.74" fill="#6e6efc" stroke="none" stroke-width="1.0"/>
<rect x="142.45" y="44.99" width="38.60" height="1.74" fill="#6e6efc" stroke="none" stroke-width="1.0"/>
<rect x="142.45" y="46.90" width="38.60" height="1.74" fill="#6e6efc" stroke="none" stroke-width="1.0"/>
<rect x="142.45" y="48.80" width="38.60" height="1.74" fill="#3939fb" stroke="none" stroke-width="1.0"/>
<rect x="142.45" y="50.70" width="38.60" height="1.74" fill="#3939fb" stroke="none" stroke-width="1.0"/>
<rect x="142.45" y="52.61" width="38.60" height="1.74" fill="#5757fb" stroke="none" stroke-width="1.0"/>
<rect x="142.45" y="54.51" width="38.60" height="1.74" fill="#5757fb" stroke="none" stroke-width="1.0"/>
<rect x="142.45" y="56.41" width="38.60" height="1.74" fill="#4646fb" stroke="none" stroke-width="1.0"/>
<rect x="142.45" y="58.31" width="38.60" height="1.74" fill="#5858fc" stroke="none" stroke-width="1.0"/>
<rect x="142.45" y="60.22" width="38.60" height="1.74" fill="#5858fc" stroke="none" stroke-width="1.0"/>
<rect x="142.45" y="62.12" width="38.60" height="1.74" fill="#5858fc" stroke="none" stroke-width="1.0"/>
<rect x="142.45" y="64.02" width="38.60" height="1.74" fill="#3b3bfb" stroke="none" stroke-width="1.0"/>
<rect x="142.45" y="65.93" width="38.60" height="1.74" fill="#3f3ffb" stroke="none" stroke-width="1.0"/>
<rect x="142.45" y="67.83" width="38.60" height="1.74" fill="#5959fc" stroke="none" stroke-width="1.0"/>
<rect x="142.45" y="69.73" width="38.60" height="1.74" fill="#5959fc" stroke="none" stroke-width="1.0"/>
<rect x="142.45" y="71.64" width="38.60" height="1.74" fill="#5858fc" stroke="none" stroke-width="1.0"/>
<rect x="142.45" y="73.54" width="38.60" height="1.74" fill="#5858fc" stroke="none" stroke-width="1.0"/>
<rect x="142.45" y="75.44" width="38.60" height="1.74" fill="#5858fc" stroke="none" stroke-width="1.0"/>
<rect x="142.45" y="77.34" width="38.60" height="1.74" fill="#5555fb" stroke="none" stroke-width="1.0"/>
<rect x="142.45" y="79.25" width="38.60" height="1.74" fill="#7b7bfc" stroke="none" stroke-width="1.0"/>
<rect x="142.45" y="81.15" width="38.60" height="1.74" fill="#7b7bfc" stroke="none" stroke-width="1.0"/>
<rect x="142.45" y="83.05" width="38.60" height="1.74" fill="#4242fb" stroke="none" stroke-width="1.0"/>
<rect x="142.45" y="84.96" width="38.60" height="1.74" fill="#6464fc" stroke="none" stroke-width="1.0"/>
<rect x="142.45" y="86.86" width="38.60" height="1.74" fill="#6464fc" stroke="none" stroke-width="1.0"/>
<rect x="142.45" y="88.76" width="38.60" height="1.74" fill="#5555fb" stroke="none" stroke-width="1.0"/>
<rect x="142.45" y="90.67" width="38.60" height="1.74" fill="#6161fc" stroke="none" stroke-width="1.0"/>
<rect x="142.45" y="92.57" width="38.60" height="1.74" fill="#6161fc" stroke="none" stroke-width="1.0"/>
<rect x="142.45" y="94.47" width="38.60" height="1.74" fill="#4343fb" stroke="none" stroke-width="1.0"/>
<rect x="142.45" y="96.37" width="38.60" height="1.74" fill="#5858fb" stroke="none" stroke-width="1.0"/>
<rect x="142.45" y="98.28" width="38.60" height="1.74" fill="#5858fb" stroke="none" stroke-width="1.0"/>
<rect x="142.45" y="100.18" width="38.60" height="1.74" fill="#5858fb" stroke="none" stroke-width="1.0"/>
<rect x="142.45" y="102.08" width="38.60" height="1.74" fill="#a4a4fd" stroke="none" stroke-width="1.0"/>
<rect x="142.45" y="103.99" width="38.60" height="1.74" fill="#4d4dfb" stroke="none" stroke-width="1.0"/>
<rect x="142.45" y="105.89" width="38.60" height="1.74" fill="#9090fd" stroke="none" stroke-width="1.0"/>
<rect x="142.45" y="107.79" width="38.60" height="1.74" fill="#3e3efb" stroke="none" stroke-width="1.0"/>
<rect x="142.45" y="109.70" width="38.60" height="1.74" fill="#3e3efb" stroke="none" stroke-width="1.0"/>
<rect x="142.45" y="111.60" width="38.60" height="1.74" fill="#3e3efb" stroke="none" stroke-width="1.0"/>
<rect x="142.45" y="113.50" width="38.60" height="1.74" fill="#3e3efb" stroke="none" stroke-width="1.0"/>
<rect x="142.45" y="115.41" width="38.60" height="1.74" fill="#5d5dfc" stroke="none" stroke-width="1.0"/>
<rect x="142.45" y="117.31" width="38.60" height="1.74" fill="#7979fc" stroke="none" stroke-width="1.0"/>
<rect x="142.45" y="119.21" width="38.60" height="1.74" fill="#7d7dfc" stroke="none" stroke-width="1.0"/>
<rect x="142.45" y="121.11" width="38.60" height="1.74" fill="#5d5dfc" stroke="none" stroke-width="1.0"/>
<rect x="142.45" y="123.02" width="38.60" height="1.74" fill="#5d5dfc" stroke="none" stroke-width="1.0"/>
<rect x="142.45" y="124.92" width="38.60" height="1.74" fill="#5151fb" stroke="none" stroke-width="1.0"/>
<rect x="142.45" y="126.82" width="38.60" height="1.74" fill="#5151fb" stroke="none" stroke-width="1.0"/>
<rect x="142.45" y="128.73" width="38.60" height="1.74" fill="#8585fc" stroke="none" stroke-width="1.0"/>
<rect x="142.45" y="130.63" width="38.60" height="1.74" fill="#8585fc" stroke="none" stroke-width="1.0"/>
<rect x="142.45" y="132.53" width="38.60" height="1.74" fill="#4848fb" stroke="none" stroke-width="1.0"/>
<rect x="142.45" y="134.44" width="38.60" height="1.74" fill="#4848fb" stroke="none" stroke-width="1.0"/>
<rect x="142.45" y="136.34" width="38.60" height="1.74" fill="#4848fb" stroke="none" stroke-width="1.0"/>
<rect x="142.45" y="138.24" width="38.60" height="1.74" fill="#9494fd" stroke="none" stroke-width="1.0"/>
<rect x="142.45" y="140.14" width="38.60" height="1.74" fill="#9494fd" stroke="none" stroke-width="1.0"/>
<rect x="142.45" y="142.05" width="38.60" height="1.74" fill="#9494fd" stroke="none" stroke-width="1.0"/>
<rect x="142.45" y="143.95" width="38.60" height="1.74" fill="#9c9cfd" stroke="none" stroke-width="1.0"/>
<rect x="142.45" y="145.85" width="38.60" height="1.74" fill="#7878fc" stroke="none" stroke-width="1.0"/>
<rect x="142.45" y="147.76" width="38.60" height="1.74" fill="#7070fc" stroke="none" stroke-width="1.0"/>
<rect x="142.45" y="149.66" width="38.60" height="1.74" fill="#7070fc" stroke="none" stroke-width="1.0"/>
<rect x="142.45" y="151.56" width="38.60" height="1.74" fill="#a8a8fd" stroke="none" stroke-width="1.0"/>
<rect x="142.45" y="153.47" width="38.60" height="1.74" fill="#c1c1fe" stroke="none" stroke-width="1.0"/>
<rect x="142.45" y="155.37" width="38.60" height="1.74" fill="#c1c1fe" stroke="none" stroke-width="1.0"/>
<rect x="142.45" y="157.27" width="38.60" height="1.74" fill="#ccccfe" stroke="none" stroke-width="1.0"/>
<rect x="142.45" y="159.17" width="38.60" height="1.74" fill="#b4b4fd" stroke="none" stroke-width="1.0"/>
<rect x="142.45" y="161.08" width="38.60" height="1.74" fill="#b4b4fd" stroke="none" stroke-width="1.0"/>
<rect x="142.45" y="162.98" width="38.60" height="1.74" fill="#6262fc" stroke="none" stroke-width="1.0"/>
<rect x="142.45" y="164.88" width="38.60" height="1.74" fill="#b1b1fd" stroke="none" stroke-width="1.0"/>
<rect x="142.45" y="166.79" width="38.60" height="1.74" fill="#5b5bfc" stroke="none" stroke-width="1.0"/>
<rect x="142.45" y="168.69" width="38.60" height="1.74" fill="#8888fd" stroke="none" stroke-width="1.0"/>
<rect x="142.45" y="170.59" width="38.60" height="1.74" fill="#8888fd" stroke="none" stroke-width="1.0"/>
<rect x="142.45" y="172.50" width="38.60" height="1.74" fill="#aaaafd" stroke="none" stroke-width="1.0"/>
<rect x="142.45" y="174.40" width="38.60" height="1.74" fill="#9d9dfd" stroke="none" stroke-width="1.0"/>
<rect x="142.45" y="176.30" width="38.60" height="1.74" fill="#7272fc" stroke="none" stroke-width="1.0"/>
<rect x="142.45" y="178.21" width="38.60" height="1.74" fill="#7272fc" stroke="none" stroke-width="1.0"/>
<rect x="142.45" y="180.11" width="38.60" height="1.74" fill="#9797fd" stroke="none" stroke-width="1.0"/>
<rect x="142.45" y="182.01" width="38.60" height="1.74" fill="#2121fa" stroke="none" stroke-width="1.0"/>
<rect x="142.45" y="183.91" width="38.60" height="1.74" fill="#2b2bfb" stroke="none" stroke-width="1.0"/>
<rect x="142.45" y="185.82" width="38.60" height="1.74" fill="#2b2bfb" stroke="none" stroke-width="1.0"/>
<rect x="142.45" y="187.72" width="38.60" height="1.74" fill="#6868fc" stroke="none" stroke-width="1.0"/>
<rect x="142.45" y="189.62" width="38.60" height="1.74" fill="#6868fc" stroke="none" stroke-width="1.0"/>
<rect x="142.45" y="191.53" width="38.60" height="1.74" fill="#a0a0fd" stroke="none" stroke-width="1.0"/>
<rect x="142.45" y="193.43" width="38.60" height="1.74" fill="#a6a6fd" stroke="none" stroke-width="1.0"/>
<rect x="142.45" y="195.33" width="38.60" height="1.74" fill="#7575fc" stroke="none" stroke-width="1.0"/>
<rect x="142.45" y="197.24" width="38.60" height="1.74" fill="#7575fc" stroke="none" stroke-width="1.0"/>
<rect x="142.45" y="199.14" width="38.60" height="1.74" fill="#7575fc" stroke="none" stroke-width="1.0"/>
<rect x="142.45" y="201.04" width="38.60" height="1.74" fill="#7575fc" stroke="none" stroke-width="1.0"/>
<rect x="142.45" y="202.94" width="38.60" height="1.74" fill="#6d6dfc" stroke="none" stroke-width="1.0"/>
<rect x="142.45" y="204.85" width="38.60" height="1.74" fill="#6d6dfc" stroke="none" stroke-width="1.0"/>
<rect x="142.45" y="206.75" width="38.60" height="1.74" fill="#8c8cfd" stroke="none" stroke-width="1.0"/>
<rect x="142.45" y="208.65" width="38.60" height="1.74" fill="#8c8cfd" stroke="none" stroke-width="1.0"/>
<rect x="142.45" y="210.56" width="38.60" height="1.74" fill="#8c8cfd" stroke="none" stroke-width="1.0"/>
<rect x="142.45" y="212.46" width="38.60" height="1.74" fill="#7d7dfc" stroke="none" stroke-width="1.0"/>
<rect x="142.45" y="214.36" width="38.60" height="1.74" fill="#bbbbfe" stroke="none" stroke-width="1.0"/>
<rect x="142.45" y="216.27" width="38.60" height="1.74" fill="#bbbbfe" stroke="none" stroke-width="1.0"/>
<rect x="142.45" y="218.17" width="38.60" height="1.74" fill="#a6a6fd" stroke="none" stroke-width="1.0"/>
<rect x="142.45" y="220.07" width="38.60" height="1.74" fill="#a8a8fd" stroke="none" stroke-width="1.0"/>
<rect x="142.45" y="221.97" width="38.60" height="1.74" fill="#a2a2fd" stroke="none" stroke-width="1.0"/>
<rect x="142.45" y="223.88" width="38.60" height="1.74" fill="#a8a8fd" stroke="none" stroke-width="1.0"/>
<rect x="142.45" y="225.78" width="38.60" height="1.74" fill="#a3a3fd" stroke="none" stroke-width="1.0"/>
<rect x="142.45" y="227.68" width="38.60" height="1.74" fill="#bcbcfe" stroke="none" stroke-width="1.0"/>
<rect x="142.45" y="229.59" width="38.60" height="1.74" fill="#bcbcfe" stroke="none" stroke-width="1.0"/>
<rect x="142.45" y="231.49" width="38.60" height="1.74" fill="#bdbdfe" stroke="none" stroke-width="1.0"/>
<rect x="142.45" y="233.39" width="38.60" height="1.74" fill="#8888fd" stroke="none" stroke-width="1.0"/>
<rect x="142.45" y="235.30" width="38.60" height="1.74" fill="#8f8ffd" stroke="none" stroke-width="1.0"/>
<rect x="142.45" y="237.20" width="38.60" height="1.74" fill="#8f8ffd" stroke="none" stroke-width="1.0"/>
<rect x="142.45" y="239.10" width="38.60" height="1.74" fill="#a6a6fd" stroke="none" stroke-width="1.0"/>
<rect x="142.45" y="241.01" width="38.60" height="1.74" fill="#8282fc" stroke="none" stroke-width="1.0"/>
<rect x="142.45" y="242.91" width="38.60" height="1.74" fill="#e3e3fe" stroke="none" stroke-width="1.0"/>
<rect x="142.45" y="244.81" width="38.60" height="1.74" fill="#b3b3fd" stroke="none" stroke-width="1.0"/>
<rect x="142.45" y="246.71" width="38.60" height="1.74" fill="#bdbdfe" stroke="none" stroke-width="1.0"/>
<rect x="142.45" y="248.62" width="38.60" height="1.74" fill="#bdbdfe" stroke="none" stroke-width="1.0"/>
<rect x="142.45" y="250.52" width="38.60" height="1.74" fill="#c3c3fe" stroke="none" stroke-width="1.0"/>
<rect x="142.45" y="252.42" width="38.60" height="1.74" fill="#a9a9fd" stroke="none" stroke-width="1.0"/>
<rect x="142.45" y="254.33" width="38.60" height="1.74" fill="#a9a9fd" stroke="none" stroke-width="1.0"/>
<rect x="142.45" y="256.23" width="38.60" height="1.74" fill="#a6a6fd" stroke="none" stroke-width="1.0"/>
<rect x="142.45" y="258.13" width="38.60" height="1.74" fill="#9898fd" stroke="none" stroke-width="1.0"/>
<rect x="142.45" y="260.04" width="38.60" height="1.74" fill="#9898fd" stroke="none" stroke-width="1.0"/>
<rect x="142.45" y="261.94" width="38.60" height="1.74" fill="#e6e6fe" stroke="none" stroke-width="1.0"/>
<rect x="142.45" y="263.84" width="38.60" height="1.74" fill="#e7e7ff" stroke="none" stroke-width="1.0"/>
<rect x="142.45" y="265.74" width="38.60" height="1.74" fill="#e0e0fe" stroke="none" stroke-width="1.0"/>
<rect x="142.45" y="267.65" width="38.60" height="1.74" fill="#6a6afc" stroke="none" stroke-width="1.0"/>
<rect x="142.45" y="269.55" width="38.60" height="1.74" fill="#6a6afc" stroke="none" stroke-width="1.0"/>
<rect x="142.45" y="271.45" width="38.60" height="1.74" fill="#5757fb" stroke="none" stroke-width="1.0"/>
<rect x="142.45" y="273.36" width="38.60" height="1.74" fill="#5b5bfc" stroke="none" stroke-width="1.0"/>
<rect x="142.45" y="275.26" width="38.60" height="1.74" fill="#f4f4ff" stroke="none" stroke-width="1.0"/>
<rect x="142.45" y="277.16" width="38.60" height="1.74" fill="#f1f1ff" stroke="none" stroke-width="1.0"/>
<rect x="142.45" y="279.07" width="38.60" height="1.74" fill="#2121fa" stroke="none" stroke-width="1.0"/>
<rect x="142.45" y="280.97" width="38.60" height="1.74" fill="#3f3ffb" stroke="none" stroke-width="1.0"/>
<rect x="142.45" y="282.87" width="38.60" height="1.74" fill="#e9e9ff" stroke="none" stroke-width="1.0"/>
<rect x="142.45" y="284.77" width="38.60" height="1.74" fill="#e7e7fe" stroke="none" stroke-width="1.0"/>
<rect x="142.45" y="286.68" width="38.60" height="1.74" fill="#7979fc" stroke="none" stroke-width="1.0"/>
<rect x="142.45" y="288.58" width="38.60" height="1.74" fill="#9494fd" stroke="none" stroke-width="1.0"/>
<rect x="142.45" y="290.48" width="38.60" height="1.74" fill="#7171fc" stroke="none" stroke-width="1.0"/>
<rect x="142.45" y="292.39" width="38.60" height="1.74" fill="#7070fc" stroke="none" stroke-width="1.0"/>
<line x1="65.35" y1="43.0" x2="65.35" y2="294.2" stroke="#ffffff" stroke-width="0.4" opacity="0.5"/>
<line x1="103.89999999999999" y1="43.0" x2="103.89999999999999" y2="294.2" stroke="#ffffff" stroke-width="0.4" opacity="0.5"/>
<line x1="142.45" y1="43.0" x2="142.45" y2="294.2" stroke="#ffffff" stroke-width="0.4" opacity="0.5"/>
<rect x="182.30" y="43.00" width="4.20" height="24.10" fill="#ff0000" stroke="none" stroke-width="1.0"/>
<rect x="182.30" y="67.00" width="4.20" height="12.40" fill="#f76060" stroke="none" stroke-width="1.0"/>
<rect x="182.30" y="79.30" width="4.20" height="12.00" fill="#fbbcbc" stroke="none" stroke-width="1.0"/>
<rect x="182.30" y="91.20" width="4.20" height="11.90" fill="#fff3f3" stroke="none" stroke-width="1.0"/>
<rect x="182.30" y="103.00" width="4.20" height="13.10" fill="#f3f3ff" stroke="none" stroke-width="1.0"/>
<rect x="182.30" y="116.00" width="4.20" height="12.10" fill="#bcbcfb" stroke="none" stroke-width="1.0"/>
<rect x="182.30" y="128.00" width="4.20" height="12.10" fill="#5c5cf7" stroke="none" stroke-width="1.0"/>
<rect x="182.30" y="140.00" width="4.20" height="24.70" fill="#0000ff" stroke="none" stroke-width="1.0"/>
<text x="190.6" y="53.6" font-size="9.4" letter-spacing="-0.1" fill="#000">1</text>
<text x="190.6" y="81" font-size="9.4" letter-spacing="-0.1" fill="#000">0.5</text>
<text x="190.6" y="106.8" font-size="9.4" letter-spacing="-0.1" fill="#000">0</text>
<text x="190.6" y="133.2" font-size="9.4" letter-spacing="-0.1" fill="#000">-0.5</text>
<text x="190.6" y="159.3" font-size="9.4" letter-spacing="-0.1" fill="#000">-1.0</text>
<text x="68.8" y="307.8" font-size="12" text-anchor="middle" fill="#000">Ctrl</text>
<text x="144.6" y="309.2" font-size="12" text-anchor="middle" fill="#000" textLength="49" lengthAdjust="spacing">siPRMT5</text>
<text x="243.3" y="17.8" font-size="23" fill="#000">B</text>
<text x="276" y="68.3" font-size="12" fill="#000" textLength="41.3" lengthAdjust="spacing">P Vs R</text>
<text x="323.4" y="68.3" font-size="12" fill="#000" textLength="108.3" lengthAdjust="spacing">upregulated genes</text>
<circle cx="351.00" cy="137.30" r="54.3" fill="none" stroke="#5b8fd6" stroke-width="1.3"/>
<circle cx="351.30" cy="199.00" r="43.8" fill="none" stroke="#ff1a1a" stroke-width="1.3"/>
<text x="351.8" y="134.2" font-size="13" text-anchor="middle" fill="#000">2046</text>
<text x="351.5" y="179.8" font-size="13" text-anchor="middle" fill="#000">13</text>
<text x="352" y="221.2" font-size="13" text-anchor="middle" fill="#000">119</text>
<line x1="370" y1="176.2" x2="444" y2="176.2" stroke="#4b7cc4" stroke-width="1.3"/>
<path d="M442.5 171.5 L452.8 176.2 L442.5 181 Z" fill="#4b7cc4"/>
<text x="276" y="264.6" font-size="12" fill="#000" textLength="49.8" lengthAdjust="spacing">SiPRMT5</text>
<text x="338.6" y="264.6" font-size="12" fill="#000" textLength="126.6" lengthAdjust="spacing">dow nregulated genes</text>
<g shape-rendering="crispEdges">
<rect x="468.00" y="111.50" width="36.00" height="9.50" fill="#f03434" stroke="#ffffff" stroke-width="0.35" stroke-opacity="0.55"/>
<rect x="504.00" y="111.50" width="36.00" height="9.50" fill="#f03030" stroke="#ffffff" stroke-width="0.35" stroke-opacity="0.55"/>
<rect x="540.00" y="111.50" width="36.00" height="9.50" fill="#4a4aea" stroke="#ffffff" stroke-width="0.35" stroke-opacity="0.55"/>
<rect x="576.00" y="111.50" width="36.00" height="9.50" fill="#4242ee" stroke="#ffffff" stroke-width="0.35" stroke-opacity="0.55"/>
<rect x="468.00" y="121.00" width="36.00" height="9.50" fill="#f03232" stroke="#ffffff" stroke-width="0.35" stroke-opacity="0.55"/>
<rect x="504.00" y="121.00" width="36.00" height="9.50" fill="#f03232" stroke="#ffffff" stroke-width="0.35" stroke-opacity="0.55"/>
<rect x="540.00" y="121.00" width="36.00" height="9.50" fill="#8484f2" stroke="#ffffff" stroke-width="0.35" stroke-opacity="0.55"/>
<rect x="576.00" y="121.00" width="36.00" height="9.50" fill="#0808e6" stroke="#ffffff" stroke-width="0.35" stroke-opacity="0.55"/>
<rect x="468.00" y="130.50" width="36.00" height="9.50" fill="#f03636" stroke="#ffffff" stroke-width="0.35" stroke-opacity="0.55"/>
<rect x="504.00" y="130.50" width="36.00" height="9.50" fill="#f03434" stroke="#ffffff" stroke-width="0.35" stroke-opacity="0.55"/>
<rect x="540.00" y="130.50" width="36.00" height="9.50" fill="#4a4aea" stroke="#ffffff" stroke-width="0.35" stroke-opacity="0.55"/>
<rect x="576.00" y="130.50" width="36.00" height="9.50" fill="#4444ea" stroke="#ffffff" stroke-width="0.35" stroke-opacity="0.55"/>
<rect x="468.00" y="140.00" width="36.00" height="9.50" fill="#f03838" stroke="#ffffff" stroke-width="0.35" stroke-opacity="0.55"/>
<rect x="504.00" y="140.00" width="36.00" height="9.50" fill="#f03434" stroke="#ffffff" stroke-width="0.35" stroke-opacity="0.55"/>
<rect x="540.00" y="140.00" width="36.00" height="9.50" fill="#3a3ae8" stroke="#ffffff" stroke-width="0.35" stroke-opacity="0.55"/>
<rect x="576.00" y="140.00" width="36.00" height="9.50" fill="#5c5cf0" stroke="#ffffff" stroke-width="0.35" stroke-opacity="0.55"/>
<rect x="468.00" y="149.50" width="36.00" height="9.50" fill="#ea2222" stroke="#ffffff" stroke-width="0.35" stroke-opacity="0.55"/>
<rect x="504.00" y="149.50" width="36.00" height="9.50" fill="#f04444" stroke="#ffffff" stroke-width="0.35" stroke-opacity="0.55"/>
<rect x="540.00" y="149.50" width="36.00" height="9.50" fill="#4a4aea" stroke="#ffffff" stroke-width="0.35" stroke-opacity="0.55"/>
<rect x="576.00" y="149.50" width="36.00" height="9.50" fill="#2a2ae8" stroke="#ffffff" stroke-width="0.35" stroke-opacity="0.55"/>
<rect x="468.00" y="159.00" width="36.00" height="9.50" fill="#f25454" stroke="#ffffff" stroke-width="0.35" stroke-opacity="0.55"/>
<rect x="504.00" y="159.00" width="36.00" height="9.50" fill="#f01c1c" stroke="#ffffff" stroke-width="0.35" stroke-opacity="0.55"/>
<rect x="540.00" y="159.00" width="36.00" height="9.50" fill="#2a2ae8" stroke="#ffffff" stroke-width="0.35" stroke-opacity="0.55"/>
<rect x="576.00" y="159.00" width="36.00" height="9.50" fill="#6262f0" stroke="#ffffff" stroke-width="0.35" stroke-opacity="0.55"/>
<rect x="468.00" y="168.50" width="36.00" height="9.50" fill="#f03a3a" stroke="#ffffff" stroke-width="0.35" stroke-opacity="0.55"/>
<rect x="504.00" y="168.50" width="36.00" height="9.50" fill="#f02a2a" stroke="#ffffff" stroke-width="0.35" stroke-opacity="0.55"/>
<rect x="540.00" y="168.50" width="36.00" height="9.50" fill="#1a1ae8" stroke="#ffffff" stroke-width="0.35" stroke-opacity="0.55"/>
<rect x="576.00" y="168.50" width="36.00" height="9.50" fill="#6a6af0" stroke="#ffffff" stroke-width="0.35" stroke-opacity="0.55"/>
<rect x="468.00" y="178.00" width="36.00" height="9.50" fill="#f03a3a" stroke="#ffffff" stroke-width="0.35" stroke-opacity="0.55"/>
<rect x="504.00" y="178.00" width="36.00" height="9.50" fill="#f02a2a" stroke="#ffffff" stroke-width="0.35" stroke-opacity="0.55"/>
<rect x="540.00" y="178.00" width="36.00" height="9.50" fill="#2222e8" stroke="#ffffff" stroke-width="0.35" stroke-opacity="0.55"/>
<rect x="576.00" y="178.00" width="36.00" height="9.50" fill="#6a6af0" stroke="#ffffff" stroke-width="0.35" stroke-opacity="0.55"/>
<rect x="468.00" y="187.50" width="36.00" height="9.50" fill="#f03a3a" stroke="#ffffff" stroke-width="0.35" stroke-opacity="0.55"/>
<rect x="504.00" y="187.50" width="36.00" height="9.50" fill="#f03232" stroke="#ffffff" stroke-width="0.35" stroke-opacity="0.55"/>
<rect x="540.00" y="187.50" width="36.00" height="9.50" fill="#1010e8" stroke="#ffffff" stroke-width="0.35" stroke-opacity="0.55"/>
<rect x="576.00" y="187.50" width="36.00" height="9.50" fill="#7272f2" stroke="#ffffff" stroke-width="0.35" stroke-opacity="0.55"/>
<rect x="468.00" y="197.00" width="36.00" height="9.50" fill="#f03232" stroke="#ffffff" stroke-width="0.35" stroke-opacity="0.55"/>
<rect x="504.00" y="197.00" width="36.00" height="9.50" fill="#f03a3a" stroke="#ffffff" stroke-width="0.35" stroke-opacity="0.55"/>
<rect x="540.00" y="197.00" width="36.00" height="9.50" fill="#2a2ae8" stroke="#ffffff" stroke-width="0.35" stroke-opacity="0.55"/>
<rect x="576.00" y="197.00" width="36.00" height="9.50" fill="#5252f0" stroke="#ffffff" stroke-width="0.35" stroke-opacity="0.55"/>
<rect x="468.00" y="206.50" width="36.00" height="9.50" fill="#f03232" stroke="#ffffff" stroke-width="0.35" stroke-opacity="0.55"/>
<rect x="504.00" y="206.50" width="36.00" height="9.50" fill="#f03a3a" stroke="#ffffff" stroke-width="0.35" stroke-opacity="0.55"/>
<rect x="540.00" y="206.50" width="36.00" height="9.50" fill="#4242ea" stroke="#ffffff" stroke-width="0.35" stroke-opacity="0.55"/>
<rect x="576.00" y="206.50" width="36.00" height="9.50" fill="#3a3ae8" stroke="#ffffff" stroke-width="0.35" stroke-opacity="0.55"/>
<rect x="468.00" y="216.00" width="36.00" height="9.50" fill="#f03a3a" stroke="#ffffff" stroke-width="0.35" stroke-opacity="0.55"/>
<rect x="504.00" y="216.00" width="36.00" height="9.50" fill="#f03232" stroke="#ffffff" stroke-width="0.35" stroke-opacity="0.55"/>
<rect x="540.00" y="216.00" width="36.00" height="9.50" fill="#0000e2" stroke="#ffffff" stroke-width="0.35" stroke-opacity="0.55"/>
<rect x="576.00" y="216.00" width="36.00" height="9.50" fill="#a2a2f8" stroke="#ffffff" stroke-width="0.35" stroke-opacity="0.55"/>
<rect x="468.00" y="225.50" width="36.00" height="9.50" fill="#f03232" stroke="#ffffff" stroke-width="0.35" stroke-opacity="0.55"/>
<rect x="504.00" y="225.50" width="36.00" height="9.50" fill="#f03232" stroke="#ffffff" stroke-width="0.35" stroke-opacity="0.55"/>
<rect x="540.00" y="225.50" width="36.00" height="9.50" fill="#0000e8" stroke="#ffffff" stroke-width="0.35" stroke-opacity="0.55"/>
<rect x="576.00" y="225.50" width="36.00" height="9.50" fill="#9a9af8" stroke="#ffffff" stroke-width="0.35" stroke-opacity="0.55"/>
</g>
<text x="618" y="119.25" font-size="8.25" letter-spacing="0.28" fill="#000">CA11</text>
<text x="618" y="128.75" font-size="7.0" fill="#000">KCNMB4</text>
<text x="618" y="138.55" font-size="8.25" letter-spacing="0.28" fill="#000">FLNC</text>
<text x="618" y="147.75" font-size="8.25" letter-spacing="0.28" fill="#000">TUBB2B</text>
<text x="618" y="158.25" font-size="8.25" letter-spacing="0.28" fill="#000">SCUBE1</text>
<text x="618" y="166.45" font-size="8.25" letter-spacing="0.28" fill="#000">CERS1</text>
<text x="618" y="176.75" font-size="8.25" letter-spacing="0.28" fill="#000">NKX1-2</text>
<text x="618" y="185.25" font-size="8.25" letter-spacing="0.28" fill="#000">FXYD6</text>
<text x="618" y="195.25" font-size="8.25" letter-spacing="0.28" fill="#000">C19orf81</text>
<text x="618" y="203.45" font-size="8.25" letter-spacing="0.28" fill="#000">PLPPR3</text>
<text x="618" y="213.45" font-size="8.25" letter-spacing="0.28" fill="#000">MTATP6P1</text>
<text x="618" y="223.05" font-size="8.25" letter-spacing="0.28" fill="#000">LGR5</text>
<text x="618" y="234.55" font-size="8.25" letter-spacing="0.28" fill="#000">ZCCHC12</text>
<defs><linearGradient id="cbB" x1="0" y1="0" x2="0" y2="1"><stop offset="0" stop-color="#d41010"/><stop offset="0.12" stop-color="#ee3030"/><stop offset="0.5" stop-color="#ffffff"/><stop offset="0.88" stop-color="#2020f0"/><stop offset="1" stop-color="#0000c8"/></linearGradient></defs>
<rect x="659.20" y="112.50" width="4.20" height="81.50" fill="url(#cbB)" stroke="none" stroke-width="1.0"/>
<text x="670.5" y="118.2" font-size="6.8" fill="#000">1</text>
<text x="670.5" y="134.8" font-size="6.8" fill="#000">0.5</text>
<text x="670.5" y="154.5" font-size="6.8" fill="#000">0</text>
<text x="670.5" y="172" font-size="6.8" fill="#000">-0.5</text>
<text x="670.5" y="189.5" font-size="6.8" fill="#000">-1.0</text>
<text x="507" y="247" font-size="9.6" text-anchor="middle" fill="#000">Ctrl</text>
<text x="578.3" y="248.8" font-size="9.6" text-anchor="middle" fill="#000" textLength="40.5" lengthAdjust="spacing">siPRMT5</text>
<text x="-0.6" y="335.2" font-size="23" fill="#000">C</text>
<text x="86.7" y="368" font-size="11" text-anchor="middle" fill="#000" textLength="47.3" lengthAdjust="spacing">KCNMB4</text>
<line x1="62.5" y1="375.9" x2="62.5" y2="464.3" stroke="#000" stroke-width="1.2"/>
<line x1="56.1" y1="376.5" x2="62.5" y2="376.5" stroke="#000" stroke-width="1.2"/>
<text x="54.1" y="380.82" font-size="12" text-anchor="end" fill="#000">15</text>
<line x1="56.1" y1="405.6" x2="62.5" y2="405.6" stroke="#000" stroke-width="1.2"/>
<text x="54.1" y="409.92" font-size="12" text-anchor="end" fill="#000">10</text>
<line x1="56.1" y1="434.7" x2="62.5" y2="434.7" stroke="#000" stroke-width="1.2"/>
<text x="54.1" y="439.02" font-size="12" text-anchor="end" fill="#000">5</text>
<line x1="56.1" y1="463.7" x2="62.5" y2="463.7" stroke="#000" stroke-width="1.2"/>
<text x="54.1" y="468.02" font-size="12" text-anchor="end" fill="#000">0</text>
<line x1="61.9" y1="463.7" x2="113" y2="463.7" stroke="#000" stroke-width="1.2"/>
<line x1="76.6" y1="463.7" x2="76.6" y2="470.09999999999997" stroke="#000" stroke-width="1.2"/>
<line x1="98.2" y1="463.7" x2="98.2" y2="470.09999999999997" stroke="#000" stroke-width="1.2"/>
<path d="M69.80 463.70 V450.60 H83.80 V463.70" fill="none" stroke="#000000" stroke-width="1.4"/>
<circle cx="72.30" cy="450.30" r="2.3" fill="#000000" stroke="none" stroke-width="1"/>
<circle cx="76.80" cy="449.80" r="2.3" fill="#000000" stroke="none" stroke-width="1"/>
<circle cx="81.30" cy="450.30" r="2.3" fill="#000000" stroke="none" stroke-width="1"/>
<path d="M91.30 463.70 V398.20 H105.40 V463.70" fill="none" stroke="#f7333c" stroke-width="1.4"/>
<rect x="90.80" y="396.20" width="15.20" height="4.00" fill="#f7333c" stroke="none" stroke-width="1.0"/>
<line x1="77" y1="388.8" x2="97.7" y2="388.8" stroke="#000" stroke-width="1.2"/>
<text x="86.94999999999999" y="388.40000000000003" font-size="12" text-anchor="middle" letter-spacing="-0.9" fill="#000">**</text>
<text x="29.3" y="422.5" font-size="12" text-anchor="middle" transform="rotate(-90 29.3 422.5)" fill="#000">Relative mRNA level</text>
<text x="78.8" y="482.5" font-size="12.4" text-anchor="end" transform="rotate(-45 78.8 482.5)" letter-spacing="0.2" fill="#000">5-8F P</text>
<text x="100.3" y="482.5" font-size="12.4" text-anchor="end" transform="rotate(-45 100.3 482.5)" letter-spacing="0.2" fill="#000">5-8F R</text>
<text x="209.2" y="379.2" font-size="10" text-anchor="middle" letter-spacing="-0.2" fill="#000">5-8F</text>
<line x1="186.7" y1="385.4" x2="232.3" y2="385.4" stroke="#000" stroke-width="1.1"/>
<text x="192" y="400.6" font-size="10.5" text-anchor="middle" fill="#000">P</text>
<text x="227.8" y="400.6" font-size="10.5" text-anchor="middle" fill="#000">R</text>
<text x="264.5" y="389.1" font-size="8.8" text-anchor="middle" fill="#000" textLength="16.6" lengthAdjust="spacing">MW</text>
<text x="264.5" y="399.7" font-size="8.8" text-anchor="middle" fill="#000" textLength="14.2" lengthAdjust="spacing">kDa</text>
<text x="254.3" y="399.4" font-size="9.4" text-anchor="end" fill="#000">(</text>
<text x="274.7" y="399.4" font-size="9.4" fill="#000">)</text>
<text x="165.5" y="427" font-size="12.3" text-anchor="end" fill="#000" textLength="50" lengthAdjust="spacing">KCNMB4</text>
<text x="163.6" y="458.2" font-size="12.3" text-anchor="end" fill="#000" textLength="42.8" lengthAdjust="spacing">GAPDH</text>
<clipPath id="bc1"><rect x="173.4" y="403.6" width="76.20" height="31.20"/></clipPath>
<rect x="173.40" y="403.60" width="76.20" height="31.20" fill="#e2e2e2" stroke="none" stroke-width="1.0"/>
<g clip-path="url(#bc1)">
<rect x="176" y="405.5" width="72" height="7" fill="#fff" opacity="0.55" filter="url(#bl4)"/>
<rect x="180.70" y="418.90" width="25.00" height="4.60" rx="2.30" fill="#000" opacity="0.78" filter="url(#bl2)"/>
<rect x="215.40" y="417.30" width="26.00" height="6.60" rx="3.30" fill="#000" opacity="1.0" filter="url(#bl2)"/>
<rect x="217.40" y="418.60" width="22.00" height="4.00" rx="2.00" fill="#000" opacity="0.8" filter="url(#bl2)"/>
</g>
<rect x="173.40" y="403.60" width="76.20" height="31.20" fill="none" stroke="#000" stroke-width="1.1"/>
<clipPath id="bc2"><rect x="173.4" y="437.8" width="76.20" height="30.90"/></clipPath>
<rect x="173.40" y="437.80" width="76.20" height="30.90" fill="#cacaca" stroke="none" stroke-width="1.0"/>
<g clip-path="url(#bc2)">
<rect x="174" y="446" width="76" height="14" fill="#777" opacity="0.32" filter="url(#bl4)"/>
<rect x="177.00" y="448.75" width="25.00" height="8.50" rx="4.25" fill="#000" opacity="0.97" filter="url(#bl3)"/>
<rect x="175.50" y="450.00" width="9.00" height="8.00" rx="4.00" fill="#000" opacity="0.7" filter="url(#bl3)"/>
<rect x="214.00" y="447.50" width="25.00" height="8.00" rx="4.00" fill="#000" opacity="0.85" filter="url(#bl3)"/>
<rect x="215.00" y="446.50" width="14.00" height="7.00" rx="3.50" fill="#000" opacity="0.5" filter="url(#bl3)"/>
</g>
<rect x="173.40" y="437.80" width="76.20" height="30.90" fill="none" stroke="#000" stroke-width="1.1"/>
<line x1="255.6" y1="424.6" x2="265.3" y2="424.6" stroke="#000" stroke-width="1.1"/>
<text x="272.4" y="428.12800000000004" font-size="9.8" letter-spacing="-0.3" fill="#000">25</text>
<line x1="255.6" y1="450.2" x2="265.3" y2="450.2" stroke="#000" stroke-width="1.1"/>
<text x="272.4" y="453.728" font-size="9.8" letter-spacing="-0.3" fill="#000">37</text>
<text x="284.0" y="334.7" font-size="23" fill="#000">D</text>
<text x="316.5" y="412" font-size="12" text-anchor="middle" transform="rotate(-90 316.5 412)" fill="#000">Relative mRNA level</text>
<text x="386.2" y="357.2" font-size="11" text-anchor="middle" letter-spacing="0.1" fill="#000">PRMT5</text>
<line x1="350.1" y1="365.7" x2="350.1" y2="454.40000000000003" stroke="#000" stroke-width="1.2"/>
<line x1="343.70000000000005" y1="366.3" x2="350.1" y2="366.3" stroke="#000" stroke-width="1.2"/>
<text x="341.70000000000005" y="370.62" font-size="12" text-anchor="end" fill="#000">50</text>
<line x1="343.70000000000005" y1="383.8" x2="350.1" y2="383.8" stroke="#000" stroke-width="1.2"/>
<text x="341.70000000000005" y="388.12" font-size="12" text-anchor="end" fill="#000">40</text>
<line x1="343.70000000000005" y1="401.3" x2="350.1" y2="401.3" stroke="#000" stroke-width="1.2"/>
<text x="341.70000000000005" y="405.62" font-size="12" text-anchor="end" fill="#000">30</text>
<line x1="343.70000000000005" y1="418.8" x2="350.1" y2="418.8" stroke="#000" stroke-width="1.2"/>
<text x="341.70000000000005" y="423.12" font-size="12" text-anchor="end" fill="#000">20</text>
<line x1="343.70000000000005" y1="436.3" x2="350.1" y2="436.3" stroke="#000" stroke-width="1.2"/>
<text x="341.70000000000005" y="440.62" font-size="12" text-anchor="end" fill="#000">10</text>
<line x1="343.70000000000005" y1="453.8" x2="350.1" y2="453.8" stroke="#000" stroke-width="1.2"/>
<text x="341.70000000000005" y="458.12" font-size="12" text-anchor="end" fill="#000">0</text>
<line x1="349.5" y1="453.8" x2="421.5" y2="453.8" stroke="#000" stroke-width="1.2"/>
<line x1="364.5" y1="453.8" x2="364.5" y2="460.2" stroke="#000" stroke-width="1.2"/>
<line x1="386" y1="453.8" x2="386" y2="460.2" stroke="#000" stroke-width="1.2"/>
<line x1="407.5" y1="453.8" x2="407.5" y2="460.2" stroke="#000" stroke-width="1.2"/>
<path d="M357.80 453.80 V405.20 H371.10 V453.80" fill="none" stroke="#000000" stroke-width="1.4"/>
<line x1="364.5" y1="402.3" x2="364.5" y2="408.2" stroke="#000000" stroke-width="1.2"/>
<line x1="361.7" y1="402.3" x2="367.3" y2="402.3" stroke="#000000" stroke-width="1.2"/>
<line x1="361.7" y1="408.2" x2="367.3" y2="408.2" stroke="#000000" stroke-width="1.2"/>
<circle cx="359.30" cy="402.90" r="2.3" fill="#000000" stroke="none" stroke-width="1"/>
<circle cx="364.00" cy="409.60" r="2.3" fill="#000000" stroke="none" stroke-width="1"/>
<circle cx="369.40" cy="404.80" r="2.3" fill="#000000" stroke="none" stroke-width="1"/>
<path d="M379.20 453.80 V433.90 H392.80 V453.80" fill="none" stroke="#f7333c" stroke-width="1.4"/>
<rect x="379.20" y="432.70" width="4.60" height="4.60" fill="#f7333c" stroke="none" stroke-width="1.0"/>
<rect x="383.70" y="429.50" width="4.60" height="4.60" fill="#f7333c" stroke="none" stroke-width="1.0"/>
<rect x="388.20" y="430.90" width="4.60" height="4.60" fill="#f7333c" stroke="none" stroke-width="1.0"/>
<path d="M400.90 453.80 V428.00 H414.20 V453.80" fill="none" stroke="#4f96f8" stroke-width="1.4"/>
<line x1="407.5" y1="425.2" x2="407.5" y2="430.8" stroke="#4f96f8" stroke-width="1.2"/>
<line x1="404.7" y1="425.2" x2="410.3" y2="425.2" stroke="#4f96f8" stroke-width="1.2"/>
<line x1="404.7" y1="430.8" x2="410.3" y2="430.8" stroke="#4f96f8" stroke-width="1.2"/>
<path d="M400.70 429.80 L405.90 429.80 L403.30 424.90 Z" fill="#4f96f8"/>
<path d="M404.90 427.50 L410.10 427.50 L407.50 422.60 Z" fill="#4f96f8"/>
<path d="M409.20 430.80 L414.40 430.80 L411.80 425.90 Z" fill="#4f96f8"/>
<line x1="362.3" y1="377.8" x2="406.8" y2="377.8" stroke="#000" stroke-width="1.2"/>
<text x="384.15000000000003" y="377.40000000000003" font-size="12" text-anchor="middle" letter-spacing="-0.9" fill="#000">**</text>
<line x1="362.3" y1="392.9" x2="385.1" y2="392.9" stroke="#000" stroke-width="1.2"/>
<text x="373.30000000000007" y="392.5" font-size="12" text-anchor="middle" letter-spacing="-0.9" fill="#000">**</text>
<text x="366.5" y="472.6" font-size="12.4" text-anchor="end" transform="rotate(-45 366.5 472.6)" fill="#000">Ctrl</text>
<text x="388" y="472.6" font-size="12.4" text-anchor="end" transform="rotate(-45 388 472.6)" fill="#000">#1</text>
<text x="409.5" y="472.6" font-size="12.4" text-anchor="end" transform="rotate(-45 409.5 472.6)" fill="#000">#2</text>
<line x1="379.9" y1="487.1" x2="406.1" y2="487.1" stroke="#000" stroke-width="1.0"/>
<text x="392.1" y="502.8" font-size="12" text-anchor="middle" letter-spacing="-0.3" fill="#000">siPRMT5</text>
<text x="485.7" y="357.2" font-size="11" text-anchor="middle" fill="#000" textLength="47.3" lengthAdjust="spacing">KCNMB4</text>
<line x1="445.4" y1="365.7" x2="445.4" y2="454.40000000000003" stroke="#000" stroke-width="1.2"/>
<line x1="439.0" y1="366.3" x2="445.4" y2="366.3" stroke="#000" stroke-width="1.2"/>
<text x="437.0" y="370.62" font-size="12" text-anchor="end" fill="#000">20</text>
<line x1="439.0" y1="388.2" x2="445.4" y2="388.2" stroke="#000" stroke-width="1.2"/>
<text x="437.0" y="392.52" font-size="12" text-anchor="end" fill="#000">15</text>
<line x1="439.0" y1="410.05" x2="445.4" y2="410.05" stroke="#000" stroke-width="1.2"/>
<text x="437.0" y="414.37" font-size="12" text-anchor="end" fill="#000">10</text>
<line x1="439.0" y1="431.9" x2="445.4" y2="431.9" stroke="#000" stroke-width="1.2"/>
<text x="437.0" y="436.21999999999997" font-size="12" text-anchor="end" fill="#000">5</text>
<line x1="439.0" y1="453.8" x2="445.4" y2="453.8" stroke="#000" stroke-width="1.2"/>
<text x="437.0" y="458.12" font-size="12" text-anchor="end" fill="#000">0</text>
<line x1="444.79999999999995" y1="453.8" x2="520.5" y2="453.8" stroke="#000" stroke-width="1.2"/>
<line x1="460.8" y1="453.8" x2="460.8" y2="460.2" stroke="#000" stroke-width="1.2"/>
<line x1="482.3" y1="453.8" x2="482.3" y2="460.2" stroke="#000" stroke-width="1.2"/>
<line x1="504.2" y1="453.8" x2="504.2" y2="460.2" stroke="#000" stroke-width="1.2"/>
<path d="M454.10 453.80 V407.60 H467.50 V453.80" fill="none" stroke="#000000" stroke-width="1.4"/>
<circle cx="456.50" cy="407.20" r="2.3" fill="#000000" stroke="none" stroke-width="1"/>
<circle cx="460.80" cy="406.60" r="2.3" fill="#000000" stroke="none" stroke-width="1"/>
<circle cx="465.10" cy="407.20" r="2.3" fill="#000000" stroke="none" stroke-width="1"/>
<path d="M475.50 453.80 V432.10 H489.20 V453.80" fill="none" stroke="#f7333c" stroke-width="1.4"/>
<rect x="475.70" y="430.00" width="4.60" height="4.60" fill="#f7333c" stroke="none" stroke-width="1.0"/>
<rect x="480.00" y="428.70" width="4.60" height="4.60" fill="#f7333c" stroke="none" stroke-width="1.0"/>
<rect x="484.30" y="429.50" width="4.60" height="4.60" fill="#f7333c" stroke="none" stroke-width="1.0"/>
<path d="M497.20 453.80 V425.80 H511.30 V453.80" fill="none" stroke="#4f96f8" stroke-width="1.4"/>
<path d="M497.20 427.90 L502.40 427.90 L499.80 423.00 Z" fill="#4f96f8"/>
<path d="M501.60 427.10 L506.80 427.10 L504.20 422.20 Z" fill="#4f96f8"/>
<path d="M506.00 427.90 L511.20 427.90 L508.60 423.00 Z" fill="#4f96f8"/>
<line x1="458.7" y1="377.8" x2="503.2" y2="377.8" stroke="#000" stroke-width="1.2"/>
<text x="480.55" y="377.40000000000003" font-size="12" text-anchor="middle" letter-spacing="-0.9" fill="#000">**</text>
<line x1="458.7" y1="394.6" x2="480.4" y2="394.6" stroke="#000" stroke-width="1.2"/>
<text x="469.15" y="394.20000000000005" font-size="12" text-anchor="middle" letter-spacing="-0.9" fill="#000">**</text>
<text x="462.8" y="472.6" font-size="12.4" text-anchor="end" transform="rotate(-45 462.8 472.6)" fill="#000">Ctrl</text>
<text x="484.3" y="472.6" font-size="12.4" text-anchor="end" transform="rotate(-45 484.3 472.6)" fill="#000">#1</text>
<text x="506.2" y="472.6" font-size="12.4" text-anchor="end" transform="rotate(-45 506.2 472.6)" fill="#000">#2</text>
<line x1="475.5" y1="487.1" x2="502.5" y2="487.1" stroke="#000" stroke-width="1.0"/>
<text x="488.5" y="502.8" font-size="12" text-anchor="middle" letter-spacing="-0.3" fill="#000">siPRMT5</text>
<text x="629" y="350.1" font-size="11.2" text-anchor="middle" fill="#000" textLength="49.8" lengthAdjust="spacing">siPRMT5</text>
<line x1="606" y1="356.4" x2="651.8" y2="356.4" stroke="#000" stroke-width="1.1"/>
<text x="603.2" y="358.5" font-size="13" text-anchor="end" transform="rotate(-48 603.2 358.5)" fill="#000">siCtrl</text>
<text x="623.6" y="364.2" font-size="13.5" text-anchor="end" transform="rotate(-48 623.6 364.2)" letter-spacing="-0.3" fill="#000">#1</text>
<text x="647" y="365.5" font-size="13.5" text-anchor="end" transform="rotate(-48 647 365.5)" letter-spacing="-0.3" fill="#000">#2</text>
<text x="672.3" y="368.3" font-size="8.8" text-anchor="middle" fill="#000" textLength="16.6" lengthAdjust="spacing">MW</text>
<text x="672.3" y="379.3" font-size="8.8" text-anchor="middle" fill="#000" textLength="14.2" lengthAdjust="spacing">kDa</text>
<text x="662.0999999999999" y="379.0" font-size="9.4" text-anchor="end" fill="#000">(</text>
<text x="682.5" y="379.0" font-size="9.4" fill="#000">)</text>
<text x="570.8" y="408.8" font-size="12.5" text-anchor="end" fill="#000" textLength="50.6" lengthAdjust="spacing">KCNMB4</text>
<text x="567.6" y="437.8" font-size="12.5" text-anchor="end" fill="#000" textLength="39.3" lengthAdjust="spacing">PRMT5</text>
<text x="570.8" y="464" font-size="12.5" text-anchor="end" fill="#000" textLength="43.8" lengthAdjust="spacing">GAPDH</text>
<clipPath id="bc3"><rect x="577.5" y="391.6" width="76.50" height="24.80"/></clipPath>
<rect x="577.50" y="391.60" width="76.50" height="24.80" fill="#d4d4d4" stroke="none" stroke-width="1.0"/>
<g clip-path="url(#bc3)">
<rect x="600.5" y="391" width="4" height="26" fill="#fff" opacity="0.5" filter="url(#bl3)"/>
<rect x="626" y="391" width="4" height="26" fill="#fff" opacity="0.5" filter="url(#bl3)"/>
<rect x="577" y="391" width="78" height="5" fill="#fff" opacity="0.35" filter="url(#bl3)"/>
<rect x="579.50" y="400.40" width="19.00" height="4.40" rx="2.20" fill="#000" opacity="0.97" filter="url(#bl2)"/>
<rect x="581.00" y="405.50" width="16.00" height="4.00" rx="2.00" fill="#000" opacity="0.32" filter="url(#bl3)"/>
<rect x="604.50" y="401.20" width="17.00" height="3.20" rx="1.60" fill="#000" opacity="0.2" filter="url(#bl3)"/>
<rect x="630.00" y="400.00" width="21.00" height="3.60" rx="1.80" fill="#000" opacity="0.78" filter="url(#bl2)"/>
<rect x="630.50" y="403.00" width="20.00" height="3.00" rx="1.50" fill="#000" opacity="0.15" filter="url(#bl3)"/>
</g>
<rect x="577.50" y="391.60" width="76.50" height="24.80" fill="none" stroke="#000" stroke-width="1.1"/>
<clipPath id="bc4"><rect x="577.5" y="419.4" width="76.50" height="25.40"/></clipPath>
<rect x="577.50" y="419.40" width="76.50" height="25.40" fill="#e4e4e4" stroke="none" stroke-width="1.0"/>
<g clip-path="url(#bc4)">
<rect x="579.30" y="429.20" width="21.00" height="5.60" rx="2.80" fill="#000" opacity="1.0" filter="url(#bl2)"/>
<rect x="604.50" y="432.30" width="17.00" height="2.20" rx="1.10" fill="#000" opacity="0.34" filter="url(#bl2)"/>
<rect x="631.00" y="432.50" width="18.00" height="2.20" rx="1.10" fill="#000" opacity="0.3" filter="url(#bl2)"/>
</g>
<rect x="577.50" y="419.40" width="76.50" height="25.40" fill="none" stroke="#000" stroke-width="1.1"/>
<clipPath id="bc5"><rect x="577.5" y="447.5" width="76.50" height="25.10"/></clipPath>
<rect x="577.50" y="447.50" width="76.50" height="25.10" fill="#cdcdcd" stroke="none" stroke-width="1.0"/>
<g clip-path="url(#bc5)">
<rect x="577" y="454" width="78" height="12" fill="#777" opacity="0.3" filter="url(#bl4)"/>
<rect x="579.50" y="457.70" width="21.00" height="6.00" rx="3.00" fill="#000" opacity="0.97" filter="url(#bl2)"/>
<rect x="604.00" y="458.20" width="20.00" height="5.40" rx="2.70" fill="#000" opacity="0.92" filter="url(#bl2)"/>
<rect x="629.00" y="457.80" width="21.00" height="5.80" rx="2.90" fill="#000" opacity="0.95" filter="url(#bl2)"/>
</g>
<rect x="577.50" y="447.50" width="76.50" height="25.10" fill="none" stroke="#000" stroke-width="1.1"/>
<line x1="660" y1="401.5" x2="669.6" y2="401.5" stroke="#000" stroke-width="1.1"/>
<text x="674.8" y="404.956" font-size="9.6" letter-spacing="-0.3" fill="#000">25</text>
<line x1="660" y1="433.5" x2="669.6" y2="433.5" stroke="#000" stroke-width="1.1"/>
<text x="674.8" y="436.956" font-size="9.6" letter-spacing="-0.3" fill="#000">72</text>
<line x1="660" y1="460.6" x2="669.6" y2="460.6" stroke="#000" stroke-width="1.1"/>
<text x="674.8" y="464.05600000000004" font-size="9.6" letter-spacing="-0.3" fill="#000">37</text>
<text x="-1.1" y="538.0" font-size="23" fill="#000">E</text>
<text x="98.5" y="553.7" font-size="11" text-anchor="middle" fill="#000" textLength="47.3" lengthAdjust="spacing">KCNMB4</text>
<line x1="63.8" y1="558.3" x2="63.8" y2="663.3000000000001" stroke="#000" stroke-width="1.2"/>
<line x1="57.4" y1="558.9" x2="63.8" y2="558.9" stroke="#000" stroke-width="1.2"/>
<text x="55.4" y="563.22" font-size="12" text-anchor="end" fill="#000">15</text>
<line x1="57.4" y1="593.5" x2="63.8" y2="593.5" stroke="#000" stroke-width="1.2"/>
<text x="55.4" y="597.82" font-size="12" text-anchor="end" fill="#000">10</text>
<line x1="57.4" y1="628.1" x2="63.8" y2="628.1" stroke="#000" stroke-width="1.2"/>
<text x="55.4" y="632.4200000000001" font-size="12" text-anchor="end" fill="#000">5</text>
<line x1="57.4" y1="662.7" x2="63.8" y2="662.7" stroke="#000" stroke-width="1.2"/>
<text x="55.4" y="667.0200000000001" font-size="12" text-anchor="end" fill="#000">0</text>
<line x1="63.199999999999996" y1="662.7" x2="130.8" y2="662.7" stroke="#000" stroke-width="1.2"/>
<line x1="77.1" y1="662.7" x2="77.1" y2="669.1" stroke="#000" stroke-width="1.2"/>
<line x1="97" y1="662.7" x2="97" y2="669.1" stroke="#000" stroke-width="1.2"/>
<line x1="117" y1="662.7" x2="117" y2="669.1" stroke="#000" stroke-width="1.2"/>
<path d="M70.20 662.70 V608.50 H84.10 V662.70" fill="none" stroke="#000000" stroke-width="1.4"/>
<circle cx="72.80" cy="608.60" r="2.3" fill="#000000" stroke="none" stroke-width="1"/>
<circle cx="77.10" cy="607.40" r="2.3" fill="#000000" stroke="none" stroke-width="1"/>
<circle cx="81.40" cy="608.20" r="2.3" fill="#000000" stroke="none" stroke-width="1"/>
<path d="M90.10 662.70 V630.90 H103.80 V662.70" fill="none" stroke="#f7333c" stroke-width="1.4"/>
<rect x="90.50" y="629.20" width="4.60" height="4.60" fill="#f7333c" stroke="none" stroke-width="1.0"/>
<rect x="94.70" y="627.50" width="4.60" height="4.60" fill="#f7333c" stroke="none" stroke-width="1.0"/>
<rect x="98.90" y="628.70" width="4.60" height="4.60" fill="#f7333c" stroke="none" stroke-width="1.0"/>
<path d="M110.40 662.70 V628.20 H123.50 V662.70" fill="none" stroke="#d883f7" stroke-width="1.4"/>
<line x1="117" y1="622.3" x2="117" y2="634.5" stroke="#d883f7" stroke-width="1.2"/>
<line x1="114.2" y1="622.3" x2="119.8" y2="622.3" stroke="#d883f7" stroke-width="1.2"/>
<line x1="114.2" y1="634.5" x2="119.8" y2="634.5" stroke="#d883f7" stroke-width="1.2"/>
<circle cx="112.80" cy="622.50" r="1.9" fill="#d883f7" stroke="none" stroke-width="1"/>
<circle cx="117.00" cy="633.50" r="1.9" fill="#d883f7" stroke="none" stroke-width="1"/>
<circle cx="121.20" cy="626.50" r="1.9" fill="#d883f7" stroke="none" stroke-width="1"/>
<line x1="76.2" y1="575.7" x2="114.8" y2="575.7" stroke="#000" stroke-width="1.2"/>
<text x="95.1" y="575.3000000000001" font-size="12" text-anchor="middle" letter-spacing="-0.9" fill="#000">**</text>
<line x1="76.2" y1="593" x2="97.2" y2="593" stroke="#000" stroke-width="1.2"/>
<text x="86.3" y="592.6" font-size="12" text-anchor="middle" letter-spacing="-0.9" fill="#000">**</text>
<text x="30.6" y="613" font-size="12" text-anchor="middle" transform="rotate(-90 30.6 613)" fill="#000">Relative mRNA level</text>
<text x="79" y="681.5" font-size="12.4" text-anchor="end" transform="rotate(-45 79 681.5)" fill="#000">Ctrl</text>
<text x="99" y="681.5" font-size="12.4" text-anchor="end" transform="rotate(-45 99 681.5)" fill="#000">GSK591</text>
<text x="119" y="681.5" font-size="12.4" text-anchor="end" transform="rotate(-45 119 681.5)" fill="#000">EPZ</text>
<text x="209.6" y="580.6" font-size="13" transform="rotate(-44 209.6 580.6)" letter-spacing="-0.2" fill="#000">Ctrl</text>
<text x="234.6" y="580" font-size="13" transform="rotate(-43 234.6 580)" letter-spacing="-0.15" fill="#000">GSK591</text>
<text x="262.8" y="577.2" font-size="13" transform="rotate(-43 262.8 577.2)" letter-spacing="-0.9" fill="#000">EPZ</text>
<text x="295.4" y="571" font-size="8.8" text-anchor="middle" fill="#000" textLength="16.6" lengthAdjust="spacing">MW</text>
<text x="295.4" y="581.2" font-size="8.8" text-anchor="middle" fill="#000" textLength="14.2" lengthAdjust="spacing">kDa</text>
<text x="285.2" y="580.9000000000001" font-size="9.4" text-anchor="end" fill="#000">(</text>
<text x="305.59999999999997" y="580.9000000000001" font-size="9.4" fill="#000">)</text>
<text x="191.9" y="602" font-size="12.5" text-anchor="end" fill="#000" textLength="50.4" lengthAdjust="spacing">KCNMB4</text>
<text x="190.7" y="629.8" font-size="12.5" text-anchor="end" fill="#000" textLength="39.2" lengthAdjust="spacing">PRMT5</text>
<text x="192.3" y="657" font-size="12.5" text-anchor="end" fill="#000" textLength="43.8" lengthAdjust="spacing">GAPDH</text>
<clipPath id="bc6"><rect x="201.5" y="582.7" width="75.70" height="25.70"/></clipPath>
<rect x="201.50" y="582.70" width="75.70" height="25.70" fill="#e0e0e0" stroke="none" stroke-width="1.0"/>
<g clip-path="url(#bc6)">
<rect x="203.80" y="592.90" width="20.00" height="5.20" rx="2.60" fill="#000" opacity="0.9" filter="url(#bl3)"/>
<rect x="202.80" y="592.00" width="22.00" height="9.00" rx="4.50" fill="#000" opacity="0.22" filter="url(#bl4)"/>
<rect x="228.25" y="595.00" width="18.50" height="4.80" rx="2.40" fill="#000" opacity="0.48" filter="url(#bl3)"/>
<rect x="227.50" y="593.30" width="20.00" height="9.00" rx="4.50" fill="#000" opacity="0.15" filter="url(#bl4)"/>
<rect x="253.00" y="595.00" width="21.00" height="5.20" rx="2.60" fill="#000" opacity="0.7" filter="url(#bl3)"/>
<rect x="252.00" y="593.10" width="23.00" height="9.00" rx="4.50" fill="#000" opacity="0.2" filter="url(#bl4)"/>
</g>
<rect x="201.50" y="582.70" width="75.70" height="25.70" fill="none" stroke="#000" stroke-width="1.1"/>
<clipPath id="bc7"><rect x="201.5" y="613" width="75.70" height="24.70"/></clipPath>
<rect x="201.50" y="613.00" width="75.70" height="24.70" fill="#dcdcdc" stroke="none" stroke-width="1.0"/>
<g clip-path="url(#bc7)">
<rect x="203.00" y="623.30" width="22.00" height="4.80" rx="2.40" fill="#000" opacity="0.98" filter="url(#bl2)"/>
<rect x="227.55" y="623.70" width="20.50" height="4.60" rx="2.30" fill="#000" opacity="0.96" filter="url(#bl2)"/>
<rect x="250.00" y="624.40" width="21.00" height="4.80" rx="2.40" fill="#000" opacity="0.98" filter="url(#bl2)"/>
</g>
<rect x="201.50" y="613.00" width="75.70" height="24.70" fill="none" stroke="#000" stroke-width="1.1"/>
<clipPath id="bc8"><rect x="201.5" y="641.1" width="75.70" height="25.80"/></clipPath>
<rect x="201.50" y="641.10" width="75.70" height="25.80" fill="#d6d6d6" stroke="none" stroke-width="1.0"/>
<g clip-path="url(#bc8)">
<rect x="201" y="650" width="78" height="16" fill="#777" opacity="0.32" filter="url(#bl4)"/>
<rect x="224.5" y="641" width="3" height="27" fill="#fff" opacity="0.4" filter="url(#bl2)"/>
<rect x="250" y="641" width="3" height="27" fill="#fff" opacity="0.4" filter="url(#bl2)"/>
<rect x="203.25" y="651.20" width="21.50" height="8.00" rx="4.00" fill="#000" opacity="1.0" filter="url(#bl2)"/>
<rect x="228.50" y="651.50" width="20.00" height="7.40" rx="3.70" fill="#000" opacity="0.98" filter="url(#bl2)"/>
<rect x="252.75" y="651.20" width="21.50" height="8.40" rx="4.20" fill="#000" opacity="1.0" filter="url(#bl2)"/>
</g>
<rect x="201.50" y="641.10" width="75.70" height="25.80" fill="none" stroke="#000" stroke-width="1.1"/>
<line x1="280.8" y1="597.6" x2="290.8" y2="597.6" stroke="#000" stroke-width="1.1"/>
<text x="296.2" y="601.128" font-size="9.8" letter-spacing="-0.3" fill="#000">25</text>
<line x1="280.8" y1="630.3" x2="290.8" y2="630.3" stroke="#000" stroke-width="1.1"/>
<text x="296.2" y="633.828" font-size="9.8" letter-spacing="-0.3" fill="#000">72</text>
<line x1="280.8" y1="657.4" x2="290.8" y2="657.4" stroke="#000" stroke-width="1.1"/>
<text x="296.2" y="660.928" font-size="9.8" letter-spacing="-0.3" fill="#000">37</text>
<text x="323.9" y="538.6" font-size="23" fill="#000">F</text>
<text x="461" y="541" font-size="11.5" text-anchor="middle" fill="#000" textLength="66" lengthAdjust="spacing">PRMT5 ChIP</text>
<line x1="393.2" y1="556.0" x2="393.2" y2="677.8000000000001" stroke="#000" stroke-width="1.2"/>
<line x1="386.8" y1="556.6" x2="393.2" y2="556.6" stroke="#000" stroke-width="1.2"/>
<text x="384.8" y="560.9200000000001" font-size="12" text-anchor="end" fill="#000">8</text>
<line x1="386.8" y1="586.9" x2="393.2" y2="586.9" stroke="#000" stroke-width="1.2"/>
<text x="384.8" y="591.22" font-size="12" text-anchor="end" fill="#000">6</text>
<line x1="386.8" y1="617.2" x2="393.2" y2="617.2" stroke="#000" stroke-width="1.2"/>
<text x="384.8" y="621.5200000000001" font-size="12" text-anchor="end" fill="#000">4</text>
<line x1="386.8" y1="647.4" x2="393.2" y2="647.4" stroke="#000" stroke-width="1.2"/>
<text x="384.8" y="651.72" font-size="12" text-anchor="end" fill="#000">2</text>
<line x1="386.8" y1="677.2" x2="393.2" y2="677.2" stroke="#000" stroke-width="1.2"/>
<text x="384.8" y="681.5200000000001" font-size="12" text-anchor="end" fill="#000">0</text>
<line x1="392.7" y1="677.2" x2="529.5" y2="677.2" stroke="#000" stroke-width="1.2"/>
<line x1="425.3" y1="677.2" x2="425.3" y2="682.7" stroke="#000" stroke-width="1.2"/>
<line x1="496.2" y1="677.2" x2="496.2" y2="682.7" stroke="#000" stroke-width="1.2"/>
<path d="M398.20 677.20 V667.55 H408.40 V677.20" fill="none" stroke="#000000" stroke-width="1.3"/>
<line x1="403.29999999999995" y1="658.8085000000001" x2="403.29999999999995" y2="677.2" stroke="#000000" stroke-width="1.2"/>
<line x1="400.69999999999993" y1="658.8085000000001" x2="405.9" y2="658.8085000000001" stroke="#000000" stroke-width="1.2"/>
<line x1="400.69999999999993" y1="677.2" x2="405.9" y2="677.2" stroke="#000000" stroke-width="1.2"/>
<circle cx="400.60" cy="662.12" r="1.6" fill="#000000" stroke="none" stroke-width="1"/>
<circle cx="403.30" cy="676.90" r="1.6" fill="#000000" stroke="none" stroke-width="1"/>
<circle cx="406.00" cy="662.12" r="1.6" fill="#000000" stroke="none" stroke-width="1"/>
<path d="M413.40 677.20 V657.60 H423.60 V677.20" fill="none" stroke="#4f96f8" stroke-width="1.3"/>
<line x1="418.5" y1="647.3515" x2="418.5" y2="665.4415" stroke="#4f96f8" stroke-width="1.2"/>
<line x1="415.9" y1="647.3515" x2="421.1" y2="647.3515" stroke="#4f96f8" stroke-width="1.2"/>
<line x1="415.9" y1="665.4415" x2="421.1" y2="665.4415" stroke="#4f96f8" stroke-width="1.2"/>
<rect x="414.40" y="659.77" width="3.20" height="3.20" fill="#4f96f8" stroke="none" stroke-width="1.0"/>
<rect x="416.90" y="645.45" width="3.20" height="3.20" fill="#4f96f8" stroke="none" stroke-width="1.0"/>
<rect x="419.40" y="662.79" width="3.20" height="3.20" fill="#4f96f8" stroke="none" stroke-width="1.0"/>
<path d="M428.20 677.20 V667.55 H438.50 V677.20" fill="none" stroke="#f9a24a" stroke-width="1.3"/>
<line x1="433.35" y1="658.8085000000001" x2="433.35" y2="677.2" stroke="#f9a24a" stroke-width="1.2"/>
<line x1="430.75" y1="658.8085000000001" x2="435.95000000000005" y2="658.8085000000001" stroke="#f9a24a" stroke-width="1.2"/>
<line x1="430.75" y1="677.2" x2="435.95000000000005" y2="677.2" stroke="#f9a24a" stroke-width="1.2"/>
<path d="M428.90 664.48 L432.70 664.48 L430.80 660.98 Z" fill="#f9a24a"/>
<path d="M431.50 678.05 L435.30 678.05 L433.40 674.55 Z" fill="#f9a24a"/>
<path d="M434.10 664.48 L437.90 664.48 L436.00 660.98 Z" fill="#f9a24a"/>
<path d="M443.40 677.20 V616.90 H453.60 V677.20" fill="none" stroke="#f7333c" stroke-width="1.3"/>
<line x1="448.5" y1="601.825" x2="448.5" y2="632.2765" stroke="#f7333c" stroke-width="1.2"/>
<line x1="445.9" y1="601.825" x2="451.1" y2="601.825" stroke="#f7333c" stroke-width="1.2"/>
<line x1="445.9" y1="632.2765" x2="451.1" y2="632.2765" stroke="#f7333c" stroke-width="1.2"/>
<circle cx="448.50" cy="601.83" r="1.6" fill="#f7333c" stroke="none" stroke-width="1"/>
<circle cx="448.50" cy="631.98" r="1.6" fill="#f7333c" stroke="none" stroke-width="1"/>
<circle cx="448.50" cy="616.90" r="1.6" fill="#f7333c" stroke="none" stroke-width="1"/>
<path d="M468.80 677.20 V652.33 H479.00 V677.20" fill="none" stroke="#000000" stroke-width="1.3"/>
<line x1="473.9" y1="634.23625" x2="473.9" y2="668.90875" stroke="#000000" stroke-width="1.2"/>
<line x1="471.29999999999995" y1="634.23625" x2="476.5" y2="634.23625" stroke="#000000" stroke-width="1.2"/>
<line x1="471.29999999999995" y1="668.90875" x2="476.5" y2="668.90875" stroke="#000000" stroke-width="1.2"/>
<circle cx="471.40" cy="662.12" r="1.6" fill="#000000" stroke="none" stroke-width="1"/>
<circle cx="473.90" cy="632.28" r="1.6" fill="#000000" stroke="none" stroke-width="1"/>
<circle cx="476.40" cy="662.12" r="1.6" fill="#000000" stroke="none" stroke-width="1"/>
<path d="M483.70 677.20 V652.33 H494.00 V677.20" fill="none" stroke="#4f96f8" stroke-width="1.3"/>
<line x1="488.85" y1="644.0350000000001" x2="488.85" y2="660.9190000000001" stroke="#4f96f8" stroke-width="1.2"/>
<line x1="486.25" y1="644.0350000000001" x2="491.45000000000005" y2="644.0350000000001" stroke="#4f96f8" stroke-width="1.2"/>
<line x1="486.25" y1="660.9190000000001" x2="491.45000000000005" y2="660.9190000000001" stroke="#4f96f8" stroke-width="1.2"/>
<rect x="484.70" y="645.45" width="3.20" height="3.20" fill="#4f96f8" stroke="none" stroke-width="1.0"/>
<rect x="487.30" y="659.77" width="3.20" height="3.20" fill="#4f96f8" stroke="none" stroke-width="1.0"/>
<rect x="489.80" y="645.45" width="3.20" height="3.20" fill="#4f96f8" stroke="none" stroke-width="1.0"/>
<path d="M498.90 677.20 V662.12 H509.10 V677.20" fill="none" stroke="#f9a24a" stroke-width="1.3"/>
<path d="M499.50 663.73 L503.30 663.73 L501.40 660.23 Z" fill="#f9a24a"/>
<path d="M502.10 663.73 L505.90 663.73 L504.00 660.23 Z" fill="#f9a24a"/>
<path d="M504.70 663.73 L508.50 663.73 L506.60 660.23 Z" fill="#f9a24a"/>
<path d="M514.10 677.20 V592.48 H524.30 V677.20" fill="none" stroke="#f7333c" stroke-width="1.3"/>
<line x1="519.2" y1="583.4335000000001" x2="519.2" y2="601.5235" stroke="#f7333c" stroke-width="1.2"/>
<line x1="516.6" y1="583.4335000000001" x2="521.8000000000001" y2="583.4335000000001" stroke="#f7333c" stroke-width="1.2"/>
<line x1="516.6" y1="601.5235" x2="521.8000000000001" y2="601.5235" stroke="#f7333c" stroke-width="1.2"/>
<circle cx="517.00" cy="586.75" r="1.6" fill="#f7333c" stroke="none" stroke-width="1"/>
<circle cx="519.20" cy="601.07" r="1.6" fill="#f7333c" stroke="none" stroke-width="1"/>
<circle cx="521.40" cy="590.52" r="1.6" fill="#f7333c" stroke="none" stroke-width="1"/>
<line x1="398.2" y1="676.9000000000001" x2="398.2" y2="678.5" stroke="#000" stroke-width="1.2"/>
<line x1="408.4" y1="676.9000000000001" x2="408.4" y2="678.5" stroke="#000" stroke-width="1.2"/>
<line x1="413.4" y1="676.9000000000001" x2="413.4" y2="678.5" stroke="#000" stroke-width="1.2"/>
<line x1="423.6" y1="676.9000000000001" x2="423.6" y2="678.5" stroke="#000" stroke-width="1.2"/>
<line x1="428.2" y1="676.9000000000001" x2="428.2" y2="678.5" stroke="#000" stroke-width="1.2"/>
<line x1="438.5" y1="676.9000000000001" x2="438.5" y2="678.5" stroke="#000" stroke-width="1.2"/>
<line x1="443.4" y1="676.9000000000001" x2="443.4" y2="678.5" stroke="#000" stroke-width="1.2"/>
<line x1="453.6" y1="676.9000000000001" x2="453.6" y2="678.5" stroke="#000" stroke-width="1.2"/>
<line x1="468.8" y1="676.9000000000001" x2="468.8" y2="678.5" stroke="#000" stroke-width="1.2"/>
<line x1="479.0" y1="676.9000000000001" x2="479.0" y2="678.5" stroke="#000" stroke-width="1.2"/>
<line x1="483.7" y1="676.9000000000001" x2="483.7" y2="678.5" stroke="#000" stroke-width="1.2"/>
<line x1="494.0" y1="676.9000000000001" x2="494.0" y2="678.5" stroke="#000" stroke-width="1.2"/>
<line x1="498.9" y1="676.9000000000001" x2="498.9" y2="678.5" stroke="#000" stroke-width="1.2"/>
<line x1="509.1" y1="676.9000000000001" x2="509.1" y2="678.5" stroke="#000" stroke-width="1.2"/>
<line x1="514.1" y1="676.9000000000001" x2="514.1" y2="678.5" stroke="#000" stroke-width="1.2"/>
<line x1="524.3" y1="676.9000000000001" x2="524.3" y2="678.5" stroke="#000" stroke-width="1.2"/>
<line x1="416.3" y1="593.1" x2="447" y2="593.1" stroke="#000" stroke-width="1.2"/>
<text x="431.25" y="590.1" font-size="12" text-anchor="middle" letter-spacing="-0.9" fill="#000">**</text>
<line x1="488.7" y1="575" x2="520" y2="575" stroke="#000" stroke-width="1.2"/>
<text x="503.95000000000005" y="572.4" font-size="12" text-anchor="middle" letter-spacing="-0.9" fill="#000">**</text>
<text x="368.3" y="619.8" font-size="12" text-anchor="middle" transform="rotate(-90 368.3 619.8)" fill="#000" textLength="56" lengthAdjust="spacing">% of input</text>
<text x="427.5" y="696" font-size="12" text-anchor="end" transform="rotate(-45 427.5 696)" fill="#000">P1</text>
<text x="498.5" y="696" font-size="12" text-anchor="end" transform="rotate(-45 498.5 696)" fill="#000">P2</text>
<circle cx="550.40" cy="601.40" r="1.7" fill="#222" stroke="none" stroke-width="1"/>
<text x="577.8" y="605.6" font-size="12" letter-spacing="-0.15" fill="#000">IgG 5-8F P</text>
<rect x="548.70" y="620.70" width="3.40" height="3.40" fill="#4f96f8" stroke="none" stroke-width="1.0"/>
<text x="577.8" y="626.6" font-size="12" letter-spacing="-0.15" fill="#000">PRMT5 5-8F P</text>
<circle cx="550.40" cy="639.80" r="1.4" fill="#f9a24a" stroke="none" stroke-width="1"/>
<text x="577.8" y="644.6" font-size="12" letter-spacing="-0.15" fill="#000">IgG 5-8FR</text>
<circle cx="550.40" cy="658.00" r="1.3" fill="#f7333c" stroke="none" stroke-width="1"/>
<text x="577.8" y="662.9" font-size="12" letter-spacing="-0.15" fill="#000">PRMT5 5-8F R</text>
<text x="-1.0" y="736.2" font-size="23" fill="#000">G</text>
<text x="127.7" y="745" font-size="11.5" text-anchor="middle" fill="#000" textLength="87.5" lengthAdjust="spacing">H3R2me2s ChIP</text>
<circle cx="81.60" cy="762.00" r="1.7" fill="#222" stroke="none" stroke-width="1"/>
<text x="108.6" y="766.8" font-size="12" letter-spacing="-0.05" fill="#000">5-8F P</text>
<rect x="79.80" y="774.20" width="3.60" height="3.60" fill="#f52030" stroke="none" stroke-width="1.0"/>
<text x="108.6" y="780.6" font-size="12" letter-spacing="-0.05" fill="#000">5-8F R</text>
<circle cx="81.60" cy="790.30" r="1.3" fill="#4f96f8" stroke="none" stroke-width="1"/>
<text x="108.6" y="794.8" font-size="12" letter-spacing="-0.05" fill="#000">5-8F R + EPZ</text>
<line x1="72.1" y1="804.2" x2="72.1" y2="846.1" stroke="#000" stroke-width="1.3"/>
<line x1="66.0" y1="804.8" x2="72.1" y2="804.8" stroke="#000" stroke-width="1.2"/>
<text x="0" y="0" font-size="12" text-anchor="end" transform="translate(63.49999999999999 808.6999999999999) scale(1.11 0.93)" fill="#000">2.0</text>
<line x1="66.0" y1="816.6" x2="72.1" y2="816.6" stroke="#000" stroke-width="1.2"/>
<text x="0" y="0" font-size="12" text-anchor="end" transform="translate(63.49999999999999 820.5) scale(1.11 0.93)" fill="#000">1.6</text>
<line x1="66.0" y1="828.6" x2="72.1" y2="828.6" stroke="#000" stroke-width="1.2"/>
<text x="0" y="0" font-size="12" text-anchor="end" transform="translate(63.49999999999999 832.5) scale(1.11 0.93)" fill="#000">1.2</text>
<line x1="66.0" y1="840.5" x2="72.1" y2="840.5" stroke="#000" stroke-width="1.2"/>
<text x="0" y="0" font-size="12" text-anchor="end" transform="translate(63.49999999999999 844.4) scale(1.11 0.93)" fill="#000">0.8</text>
<line x1="66.3" y1="846.1" x2="77.69999999999999" y2="846.1" stroke="#000" stroke-width="1.2"/>
<line x1="72.1" y1="863.2" x2="72.1" y2="905.1" stroke="#000" stroke-width="1.3"/>
<line x1="66.3" y1="863.2" x2="77.69999999999999" y2="863.2" stroke="#000" stroke-width="1.2"/>
<line x1="66.0" y1="863.2" x2="72.1" y2="863.2" stroke="#000" stroke-width="1.2"/>
<text x="0" y="0" font-size="12" text-anchor="end" transform="translate(63.49999999999999 867.1) scale(1.11 0.93)" fill="#000">0.06</text>
<line x1="66.0" y1="877.5" x2="72.1" y2="877.5" stroke="#000" stroke-width="1.2"/>
<text x="0" y="0" font-size="12" text-anchor="end" transform="translate(63.49999999999999 881.4) scale(1.11 0.93)" fill="#000">0.04</text>
<line x1="66.0" y1="891.4" x2="72.1" y2="891.4" stroke="#000" stroke-width="1.2"/>
<text x="0" y="0" font-size="12" text-anchor="end" transform="translate(63.49999999999999 895.3) scale(1.11 0.93)" fill="#000">0.02</text>
<line x1="66.0" y1="904.5" x2="72.1" y2="904.5" stroke="#000" stroke-width="1.2"/>
<text x="0" y="0" font-size="12" text-anchor="end" transform="translate(63.49999999999999 908.4) scale(1.11 0.93)" fill="#000">0.00</text>
<line x1="71.6" y1="904.5" x2="199.8" y2="904.5" stroke="#000" stroke-width="1.3"/>
<line x1="102.2" y1="904.5" x2="102.2" y2="910.0" stroke="#000" stroke-width="1.2"/>
<line x1="168.7" y1="904.5" x2="168.7" y2="910.0" stroke="#000" stroke-width="1.2"/>
<circle cx="79.50" cy="904.50" r="1.0" fill="#000000" stroke="none" stroke-width="1"/>
<circle cx="84.20" cy="904.50" r="1.0" fill="#000000" stroke="none" stroke-width="1"/>
<circle cx="88.80" cy="904.50" r="1.0" fill="#000000" stroke="none" stroke-width="1"/>
<path d="M96.40 904.50 V886.90 H108.20 V904.50" fill="none" stroke="#f01828" stroke-width="1.2"/>
<line x1="102.3" y1="883.8" x2="102.3" y2="890" stroke="#f01828" stroke-width="1.2"/>
<line x1="98.8" y1="883.8" x2="105.8" y2="883.8" stroke="#f01828" stroke-width="1.2"/>
<line x1="98.8" y1="890" x2="105.8" y2="890" stroke="#f01828" stroke-width="1.2"/>
<rect x="97.50" y="883.00" width="3.00" height="3.00" fill="#f01828" stroke="none" stroke-width="1.0"/>
<rect x="100.80" y="888.80" width="3.00" height="3.00" fill="#f01828" stroke="none" stroke-width="1.0"/>
<rect x="104.10" y="883.00" width="3.00" height="3.00" fill="#f01828" stroke="none" stroke-width="1.0"/>
<path d="M114.70 904.50 V896.20 H126.20 V904.50" fill="none" stroke="#4a98f2" stroke-width="1.2"/>
<line x1="120.4" y1="893.8" x2="120.4" y2="898.5" stroke="#4a98f2" stroke-width="1.2"/>
<line x1="116.9" y1="893.8" x2="123.9" y2="893.8" stroke="#4a98f2" stroke-width="1.2"/>
<line x1="116.9" y1="898.5" x2="123.9" y2="898.5" stroke="#4a98f2" stroke-width="1.2"/>
<circle cx="117.50" cy="895.00" r="1.2" fill="#4a98f2" stroke="none" stroke-width="1"/>
<circle cx="120.40" cy="897.50" r="1.2" fill="#4a98f2" stroke="none" stroke-width="1"/>
<circle cx="123.40" cy="894.50" r="1.2" fill="#4a98f2" stroke="none" stroke-width="1"/>
<line x1="145.3" y1="863" x2="145.3" y2="904.5" stroke="#404040" stroke-width="1.2"/>
<line x1="156.4" y1="863" x2="156.4" y2="904.5" stroke="#404040" stroke-width="1.2"/>
<line x1="163.2" y1="863" x2="163.2" y2="904.5" stroke="#f01828" stroke-width="1.2"/>
<line x1="175" y1="863" x2="175" y2="904.5" stroke="#f01828" stroke-width="1.2"/>
<line x1="181.5" y1="863" x2="181.5" y2="904.5" stroke="#4a98f2" stroke-width="1.2"/>
<line x1="192.7" y1="863" x2="192.7" y2="904.5" stroke="#4a98f2" stroke-width="1.2"/>
<path d="M145.3 846.3 V841.7 H156.4 V846.3" fill="none" stroke="#404040" stroke-width="1.2"/>
<path d="M163.2 846.3 V829.8 H175 V846.3" fill="none" stroke="#f01828" stroke-width="1.2"/>
<path d="M181.5 846.3 V835.3 H192.7 V846.3" fill="none" stroke="#4a98f2" stroke-width="1.2"/>
<circle cx="147.80" cy="841.80" r="1.3" fill="#404040" stroke="none" stroke-width="1"/>
<circle cx="150.80" cy="840.60" r="1.3" fill="#404040" stroke="none" stroke-width="1"/>
<circle cx="153.80" cy="841.60" r="1.3" fill="#404040" stroke="none" stroke-width="1"/>
<line x1="169.1" y1="827.6" x2="169.1" y2="832" stroke="#f01828" stroke-width="1.2"/>
<line x1="165.6" y1="827.6" x2="172.6" y2="827.6" stroke="#f01828" stroke-width="1.2"/>
<line x1="165.6" y1="832" x2="172.6" y2="832" stroke="#f01828" stroke-width="1.2"/>
<rect x="164.50" y="826.50" width="3.00" height="3.00" fill="#f01828" stroke="none" stroke-width="1.0"/>
<rect x="167.60" y="830.50" width="3.00" height="3.00" fill="#f01828" stroke="none" stroke-width="1.0"/>
<rect x="170.70" y="827.00" width="3.00" height="3.00" fill="#f01828" stroke="none" stroke-width="1.0"/>
<circle cx="184.20" cy="835.30" r="1.0" fill="#4a98f2" stroke="none" stroke-width="1"/>
<circle cx="187.10" cy="834.60" r="1.0" fill="#4a98f2" stroke="none" stroke-width="1"/>
<circle cx="190.00" cy="835.30" r="1.0" fill="#4a98f2" stroke="none" stroke-width="1"/>
<line x1="96.4" y1="904.2" x2="96.4" y2="905.8" stroke="#000" stroke-width="1.2"/>
<line x1="108.2" y1="904.2" x2="108.2" y2="905.8" stroke="#000" stroke-width="1.2"/>
<line x1="114.7" y1="904.2" x2="114.7" y2="905.8" stroke="#000" stroke-width="1.2"/>
<line x1="126.2" y1="904.2" x2="126.2" y2="905.8" stroke="#000" stroke-width="1.2"/>
<line x1="133.5" y1="904.2" x2="133.5" y2="905.8" stroke="#000" stroke-width="1.2"/>
<line x1="139.5" y1="904.2" x2="139.5" y2="905.8" stroke="#000" stroke-width="1.2"/>
<line x1="145.3" y1="904.2" x2="145.3" y2="905.8" stroke="#000" stroke-width="1.2"/>
<line x1="156.4" y1="904.2" x2="156.4" y2="905.8" stroke="#000" stroke-width="1.2"/>
<line x1="163.2" y1="904.2" x2="163.2" y2="905.8" stroke="#000" stroke-width="1.2"/>
<line x1="175" y1="904.2" x2="175" y2="905.8" stroke="#000" stroke-width="1.2"/>
<line x1="181.5" y1="904.2" x2="181.5" y2="905.8" stroke="#000" stroke-width="1.2"/>
<line x1="192.7" y1="904.2" x2="192.7" y2="905.8" stroke="#000" stroke-width="1.2"/>
<line x1="198" y1="904.2" x2="198" y2="905.8" stroke="#000" stroke-width="1.2"/>
<line x1="84.1" y1="875.7" x2="101.2" y2="875.7" stroke="#000" stroke-width="1.2"/>
<text x="92.25" y="875.3000000000001" font-size="12" text-anchor="middle" letter-spacing="-0.9" fill="#000">**</text>
<line x1="103.4" y1="861.9" x2="119.8" y2="861.9" stroke="#000" stroke-width="1.2"/>
<text x="111.19999999999999" y="861.5" font-size="12" text-anchor="middle" letter-spacing="-0.9" fill="#000">*</text>
<line x1="152.5" y1="820.8" x2="167" y2="820.8" stroke="#000" stroke-width="1.2"/>
<text x="159.35" y="820.4" font-size="12" text-anchor="middle" letter-spacing="-0.9" fill="#000">**</text>
<line x1="171.8" y1="813.7" x2="188.5" y2="813.7" stroke="#8a8a8a" stroke-width="1.2"/>
<text x="179.75" y="813.3000000000001" font-size="12" text-anchor="middle" letter-spacing="-0.9" fill="#000">*</text>
<text x="30.8" y="857.4" font-size="12" text-anchor="middle" transform="rotate(-90 30.8 857.4)" fill="#000" textLength="56" lengthAdjust="spacing">% of input</text>
<text x="104.5" y="923.4" font-size="12" text-anchor="end" transform="rotate(-45 104.5 923.4)" fill="#000">P1</text>
<text x="171" y="923.4" font-size="12" text-anchor="end" transform="rotate(-45 171 923.4)" fill="#000">P2</text>
<line x1="80.3" y1="939.6" x2="173.4" y2="939.6" stroke="#000" stroke-width="1.0"/>
<text x="130" y="955.8" font-size="11.5" text-anchor="middle" letter-spacing="-0.5" fill="#000">KCNMB4</text>
<text x="231.0" y="734.7" font-size="23" fill="#000">H</text>
<text x="388.3" y="767.4" font-size="13" text-anchor="middle" letter-spacing="-0.1" fill="#000">5-8F</text>
<line x1="326.2" y1="776.1" x2="445.4" y2="776.1" stroke="#000" stroke-width="1.1"/>
<text x="342.3" y="817" font-size="13" text-anchor="middle" fill="#000">P</text>
<text x="373.8" y="817" font-size="13" text-anchor="middle" fill="#000">R</text>
<text x="397.5" y="817.5" font-size="13" transform="rotate(-38.5 397.5 817.5)" letter-spacing="-0.2" fill="#000">GSK591</text>
<text x="426.2" y="819.5" font-size="13" transform="rotate(-37 426.2 819.5)" letter-spacing="-1.0" fill="#000">EPZ</text>
<text x="467.3" y="799.6" font-size="8.8" text-anchor="middle" fill="#000" textLength="16.6" lengthAdjust="spacing">MW</text>
<text x="467.3" y="810.3" font-size="8.8" text-anchor="middle" fill="#000" textLength="14.2" lengthAdjust="spacing">kDa</text>
<text x="457.1" y="810.0" font-size="9.4" text-anchor="end" fill="#000">(</text>
<text x="477.5" y="810.0" font-size="9.4" fill="#000">)</text>
<text x="313.3" y="842.6" font-size="13" text-anchor="end" fill="#000" textLength="62.6" lengthAdjust="spacing">H3R2me2s</text>
<text x="311" y="880" font-size="12.5" text-anchor="end" fill="#000" textLength="44.2" lengthAdjust="spacing">GAPDH</text>
<clipPath id="bc9"><rect x="323.8" y="825.1" width="121.80" height="27.20"/></clipPath>
<rect x="323.80" y="825.10" width="121.80" height="27.20" fill="#ebebeb" stroke="none" stroke-width="1.0"/>
<g clip-path="url(#bc9)">
<rect x="328.00" y="835.10" width="25.00" height="3.80" rx="1.90" fill="#000" opacity="0.72" filter="url(#bl2)"/>
<rect x="359.50" y="834.60" width="26.00" height="4.80" rx="2.40" fill="#000" opacity="0.98" filter="url(#bl2)"/>
</g>
<rect x="323.80" y="825.10" width="121.80" height="27.20" fill="none" stroke="#000" stroke-width="1.1"/>
<clipPath id="bc10"><rect x="323.8" y="860.2" width="121.80" height="27.60"/></clipPath>
<rect x="323.80" y="860.20" width="121.80" height="27.60" fill="#e2e2e2" stroke="none" stroke-width="1.0"/>
<g clip-path="url(#bc10)">
<rect x="327.00" y="872.20" width="27.00" height="4.80" rx="2.40" fill="#000" opacity="1.0" filter="url(#bl2)"/>
<rect x="358.50" y="872.70" width="25.00" height="4.20" rx="2.10" fill="#000" opacity="0.96" filter="url(#bl2)"/>
<rect x="388.50" y="873.00" width="25.00" height="4.00" rx="2.00" fill="#000" opacity="0.96" filter="url(#bl2)"/>
<rect x="418.50" y="872.90" width="24.00" height="4.20" rx="2.10" fill="#000" opacity="0.96" filter="url(#bl2)"/>
</g>
<rect x="323.80" y="860.20" width="121.80" height="27.60" fill="none" stroke="#000" stroke-width="1.1"/>
<line x1="450" y1="837.4" x2="460" y2="837.4" stroke="#000" stroke-width="1.1"/>
<text x="466.2" y="840.496" font-size="8.6" letter-spacing="-0.3" fill="#000">17</text>
<line x1="450" y1="874.6" x2="460" y2="874.6" stroke="#000" stroke-width="1.1"/>
<text x="466.2" y="877.696" font-size="8.6" letter-spacing="-0.3" fill="#000">37</text>
<text x="508.3" y="735.0" font-size="23" fill="#000">I</text>
<text x="629.6" y="773" font-size="11" text-anchor="middle" fill="#000" textLength="47.3" lengthAdjust="spacing">KCNMB4</text>
<line x1="581.6" y1="787.6999999999999" x2="581.6" y2="892.9" stroke="#000" stroke-width="1.2"/>
<line x1="575.2" y1="788.3" x2="581.6" y2="788.3" stroke="#000" stroke-width="1.2"/>
<text x="573.2" y="792.62" font-size="12" text-anchor="end" fill="#000">12</text>
<line x1="575.2" y1="840.3" x2="581.6" y2="840.3" stroke="#000" stroke-width="1.2"/>
<text x="573.2" y="844.62" font-size="12" text-anchor="end" fill="#000">6</text>
<line x1="575.2" y1="892.3" x2="581.6" y2="892.3" stroke="#000" stroke-width="1.2"/>
<text x="573.2" y="896.62" font-size="12" text-anchor="end" fill="#000">0</text>
<line x1="581.0" y1="892.3" x2="677.8" y2="892.3" stroke="#000" stroke-width="1.2"/>
<line x1="600.6" y1="892.3" x2="600.6" y2="898.6999999999999" stroke="#000" stroke-width="1.2"/>
<line x1="629.3" y1="892.3" x2="629.3" y2="898.6999999999999" stroke="#000" stroke-width="1.2"/>
<line x1="658.1" y1="892.3" x2="658.1" y2="898.6999999999999" stroke="#000" stroke-width="1.2"/>
<path d="M591.40 892.30 V828.60 H610.20 V892.30" fill="none" stroke="#000000" stroke-width="1.4"/>
<line x1="600.6" y1="825.5" x2="600.6" y2="831.5" stroke="#000000" stroke-width="1.2"/>
<line x1="597.1" y1="825.5" x2="604.1" y2="825.5" stroke="#000000" stroke-width="1.2"/>
<line x1="597.1" y1="831.5" x2="604.1" y2="831.5" stroke="#000000" stroke-width="1.2"/>
<circle cx="595.80" cy="830.80" r="1.9" fill="#000000" stroke="none" stroke-width="1"/>
<circle cx="600.60" cy="828.00" r="1.9" fill="#000000" stroke="none" stroke-width="1"/>
<circle cx="605.30" cy="826.00" r="1.9" fill="#000000" stroke="none" stroke-width="1"/>
<path d="M620.30 892.30 V849.10 H638.50 V892.30" fill="none" stroke="#d883f7" stroke-width="1.4"/>
<line x1="629.3" y1="846.3" x2="629.3" y2="851" stroke="#d883f7" stroke-width="1.2"/>
<line x1="625.8" y1="846.3" x2="632.8" y2="846.3" stroke="#d883f7" stroke-width="1.2"/>
<line x1="625.8" y1="851" x2="632.8" y2="851" stroke="#d883f7" stroke-width="1.2"/>
<circle cx="622.60" cy="850.60" r="1.9" fill="#d883f7" stroke="none" stroke-width="1"/>
<circle cx="629.30" cy="846.50" r="1.9" fill="#d883f7" stroke="none" stroke-width="1"/>
<circle cx="636.00" cy="847.50" r="1.9" fill="#d883f7" stroke="none" stroke-width="1"/>
<path d="M649.20 892.30 V864.50 H667.40 V892.30" fill="none" stroke="#f7333c" stroke-width="1.4"/>
<line x1="658.1" y1="861" x2="658.1" y2="867.5" stroke="#f7333c" stroke-width="1.2"/>
<line x1="654.6" y1="861" x2="661.6" y2="861" stroke="#f7333c" stroke-width="1.2"/>
<line x1="654.6" y1="867.5" x2="661.6" y2="867.5" stroke="#f7333c" stroke-width="1.2"/>
<circle cx="654.00" cy="861.00" r="1.2" fill="#f7333c" stroke="none" stroke-width="1"/>
<circle cx="658.10" cy="866.50" r="1.2" fill="#f7333c" stroke="none" stroke-width="1"/>
<circle cx="662.50" cy="863.80" r="1.2" fill="#f7333c" stroke="none" stroke-width="1"/>
<line x1="600.5" y1="801.8" x2="656.1" y2="801.8" stroke="#8a8a8a" stroke-width="1.2"/>
<text x="627.9" y="799.0" font-size="12" text-anchor="middle" letter-spacing="-0.9" fill="#000">**</text>
<line x1="600.5" y1="816.4" x2="627.7" y2="816.4" stroke="#000" stroke-width="1.2"/>
<text x="613.7" y="816.0" font-size="12" text-anchor="middle" letter-spacing="-0.9" fill="#000">**</text>
<text x="547.5" y="842.8" font-size="12" text-anchor="middle" transform="rotate(-90 547.5 842.8)" fill="#000">Relative mRNA level</text>
<text x="603" y="910.8" font-size="12.4" text-anchor="end" transform="rotate(-45 603 910.8)" fill="#000">Ctrl</text>
<text x="632" y="910.8" font-size="12.4" text-anchor="end" transform="rotate(-45 632 910.8)" fill="#000">5 μM</text>
<text x="661" y="910.8" font-size="12.4" text-anchor="end" transform="rotate(-45 661 910.8)" fill="#000">15 μM</text>
<line x1="591.8" y1="939.1" x2="656.1" y2="939.1" stroke="#000" stroke-width="1.2"/>
<text x="622.9" y="955.6" font-size="12" text-anchor="middle" fill="#000" textLength="54.8" lengthAdjust="spacing">OICR9429</text>
</svg>
</body></html>
